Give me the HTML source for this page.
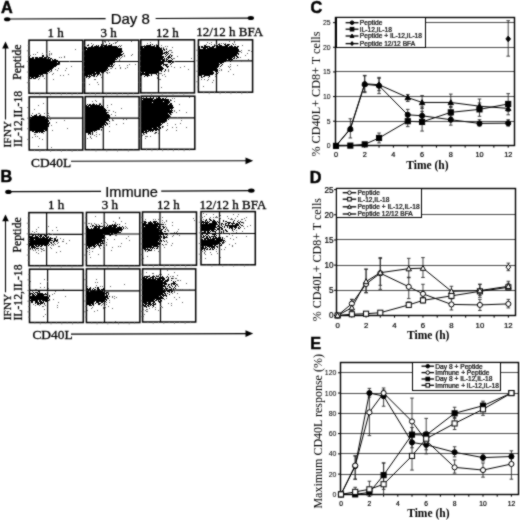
<!DOCTYPE html>
<html><head><meta charset="utf-8"><style>
html,body{margin:0;padding:0;background:#fff;}
svg{display:block;}
</style></head><body>
<svg width="520" height="520" viewBox="0 0 520 520">
<defs><filter id="soft" x="0" y="0" width="520" height="520" filterUnits="userSpaceOnUse" color-interpolation-filters="sRGB"><feConvolveMatrix order="3" kernelMatrix="1 2 1 2 12 2 1 2 1" divisor="24" edgeMode="duplicate"/></filter></defs>
<g filter="url(#soft)">
<rect width="520" height="520" fill="#fff"/>
<text x="1.0" y="13.2" font-family="Liberation Sans" font-size="16.2" font-weight="bold" text-anchor="start" fill="#000" stroke="#000" stroke-width="0.5">A</text>
<text x="0.6" y="182.0" font-family="Liberation Sans" font-size="16.2" font-weight="bold" text-anchor="start" fill="#000" stroke="#000" stroke-width="0.5">B</text>
<text x="310.4" y="13.2" font-family="Liberation Sans" font-size="16.2" font-weight="bold" text-anchor="start" fill="#000" stroke="#000" stroke-width="0.5">C</text>
<text x="309.8" y="183.0" font-family="Liberation Sans" font-size="16.2" font-weight="bold" text-anchor="start" fill="#000" stroke="#000" stroke-width="0.5">D</text>
<text x="310.3" y="348.8" font-family="Liberation Sans" font-size="16.2" font-weight="bold" text-anchor="start" fill="#000" stroke="#000" stroke-width="0.5">E</text>
<ellipse cx="7.2" cy="19.2" rx="3.2" ry="2.0" fill="#000"/>
<line x1="9" y1="19.0" x2="105.6" y2="18.7" stroke="#000" stroke-width="1.2"/>
<text x="110.7" y="24.4" font-family="Liberation Sans" font-size="15.0" text-anchor="start" fill="#000" stroke="#000" stroke-width="0.2">Day 8</text>
<line x1="155.6" y1="18.5" x2="249" y2="18.2" stroke="#000" stroke-width="1.2"/>
<ellipse cx="250.8" cy="18.0" rx="3.2" ry="2.0" fill="#000"/>
<ellipse cx="8.4" cy="191.9" rx="3.2" ry="2.1" fill="#000"/>
<line x1="10" y1="191.7" x2="101.0" y2="191.4" stroke="#000" stroke-width="1.2"/>
<text x="105.2" y="196.9" font-family="Liberation Sans" font-size="14.6" text-anchor="start" fill="#000" stroke="#000" stroke-width="0.2">Immune</text>
<line x1="161.2" y1="191.1" x2="250" y2="190.6" stroke="#000" stroke-width="1.2"/>
<ellipse cx="251.3" cy="190.6" rx="3.3" ry="2.2" fill="#000"/>
<text x="47.4" y="37.0" font-family="Liberation Serif" font-size="13.0" text-anchor="start" fill="#000" stroke="#000" stroke-width="0.3">1 h</text>
<text x="100.4" y="37.0" font-family="Liberation Serif" font-size="13.0" text-anchor="start" fill="#000" stroke="#000" stroke-width="0.3">3 h</text>
<text x="156.0" y="37.0" font-family="Liberation Serif" font-size="13.0" text-anchor="start" fill="#000" stroke="#000" stroke-width="0.3">12 h</text>
<text x="196.20000000000002" y="36.4" font-family="Liberation Serif" font-size="13.0" text-anchor="start" fill="#000" stroke="#000" stroke-width="0.3">12/12 h BFA</text>
<text x="48.1" y="209.4" font-family="Liberation Serif" font-size="13.0" text-anchor="start" fill="#000" stroke="#000" stroke-width="0.3">1 h</text>
<text x="101.7" y="208.8" font-family="Liberation Serif" font-size="13.0" text-anchor="start" fill="#000" stroke="#000" stroke-width="0.3">3 h</text>
<text x="157.1" y="208.6" font-family="Liberation Serif" font-size="13.0" text-anchor="start" fill="#000" stroke="#000" stroke-width="0.3">12 h</text>
<text x="199.4" y="208.6" font-family="Liberation Serif" font-size="13.0" text-anchor="start" fill="#000" stroke="#000" stroke-width="0.3">12/12 h BFA</text>
<rect x="29.0" y="40.2" width="53.80" height="53.10" fill="none" stroke="#000" stroke-width="1.5"/>
<line x1="46.8" y1="40.2" x2="46.8" y2="93.3" stroke="#000" stroke-width="1.2"/>
<line x1="29.0" y1="61.5" x2="82.8" y2="61.5" stroke="#000" stroke-width="1.2"/>
<line x1="27.7" y1="45.510000000000005" x2="29.0" y2="45.510000000000005" stroke="#666" stroke-width="0.8"/>
<line x1="34.38" y1="93.3" x2="34.38" y2="94.5" stroke="#888" stroke-width="0.8"/>
<line x1="26.8" y1="50.82" x2="29.0" y2="50.82" stroke="#666" stroke-width="0.8"/>
<line x1="39.76" y1="93.3" x2="39.76" y2="95.3" stroke="#888" stroke-width="0.8"/>
<line x1="27.7" y1="56.13" x2="29.0" y2="56.13" stroke="#666" stroke-width="0.8"/>
<line x1="45.14" y1="93.3" x2="45.14" y2="94.5" stroke="#888" stroke-width="0.8"/>
<line x1="26.8" y1="61.44" x2="29.0" y2="61.44" stroke="#666" stroke-width="0.8"/>
<line x1="50.519999999999996" y1="93.3" x2="50.519999999999996" y2="95.3" stroke="#888" stroke-width="0.8"/>
<line x1="27.7" y1="66.75" x2="29.0" y2="66.75" stroke="#666" stroke-width="0.8"/>
<line x1="55.9" y1="93.3" x2="55.9" y2="94.5" stroke="#888" stroke-width="0.8"/>
<line x1="26.8" y1="72.06" x2="29.0" y2="72.06" stroke="#666" stroke-width="0.8"/>
<line x1="61.279999999999994" y1="93.3" x2="61.279999999999994" y2="95.3" stroke="#888" stroke-width="0.8"/>
<line x1="27.7" y1="77.37" x2="29.0" y2="77.37" stroke="#666" stroke-width="0.8"/>
<line x1="66.66" y1="93.3" x2="66.66" y2="94.5" stroke="#888" stroke-width="0.8"/>
<line x1="26.8" y1="82.68" x2="29.0" y2="82.68" stroke="#666" stroke-width="0.8"/>
<line x1="72.03999999999999" y1="93.3" x2="72.03999999999999" y2="95.3" stroke="#888" stroke-width="0.8"/>
<line x1="27.7" y1="87.99000000000001" x2="29.0" y2="87.99000000000001" stroke="#666" stroke-width="0.8"/>
<line x1="77.42" y1="93.3" x2="77.42" y2="94.5" stroke="#888" stroke-width="0.8"/>
<rect x="84.6" y="40.1" width="54.20" height="53.20" fill="none" stroke="#000" stroke-width="1.5"/>
<line x1="102.8" y1="40.1" x2="102.8" y2="93.3" stroke="#000" stroke-width="1.2"/>
<line x1="84.6" y1="61.5" x2="138.8" y2="61.5" stroke="#000" stroke-width="1.2"/>
<line x1="83.3" y1="45.42" x2="84.6" y2="45.42" stroke="#666" stroke-width="0.8"/>
<line x1="90.02" y1="93.3" x2="90.02" y2="94.5" stroke="#888" stroke-width="0.8"/>
<line x1="82.39999999999999" y1="50.74" x2="84.6" y2="50.74" stroke="#666" stroke-width="0.8"/>
<line x1="95.44" y1="93.3" x2="95.44" y2="95.3" stroke="#888" stroke-width="0.8"/>
<line x1="83.3" y1="56.06" x2="84.6" y2="56.06" stroke="#666" stroke-width="0.8"/>
<line x1="100.86" y1="93.3" x2="100.86" y2="94.5" stroke="#888" stroke-width="0.8"/>
<line x1="82.39999999999999" y1="61.379999999999995" x2="84.6" y2="61.379999999999995" stroke="#666" stroke-width="0.8"/>
<line x1="106.28" y1="93.3" x2="106.28" y2="95.3" stroke="#888" stroke-width="0.8"/>
<line x1="83.3" y1="66.7" x2="84.6" y2="66.7" stroke="#666" stroke-width="0.8"/>
<line x1="111.7" y1="93.3" x2="111.7" y2="94.5" stroke="#888" stroke-width="0.8"/>
<line x1="82.39999999999999" y1="72.02" x2="84.6" y2="72.02" stroke="#666" stroke-width="0.8"/>
<line x1="117.12" y1="93.3" x2="117.12" y2="95.3" stroke="#888" stroke-width="0.8"/>
<line x1="83.3" y1="77.34" x2="84.6" y2="77.34" stroke="#666" stroke-width="0.8"/>
<line x1="122.54" y1="93.3" x2="122.54" y2="94.5" stroke="#888" stroke-width="0.8"/>
<line x1="82.39999999999999" y1="82.66" x2="84.6" y2="82.66" stroke="#666" stroke-width="0.8"/>
<line x1="127.96000000000001" y1="93.3" x2="127.96000000000001" y2="95.3" stroke="#888" stroke-width="0.8"/>
<line x1="83.3" y1="87.97999999999999" x2="84.6" y2="87.97999999999999" stroke="#666" stroke-width="0.8"/>
<line x1="133.38" y1="93.3" x2="133.38" y2="94.5" stroke="#888" stroke-width="0.8"/>
<rect x="140.8" y="39.8" width="53.70" height="53.10" fill="none" stroke="#000" stroke-width="1.5"/>
<line x1="158.5" y1="39.8" x2="158.5" y2="92.9" stroke="#000" stroke-width="1.2"/>
<line x1="140.8" y1="61.5" x2="194.5" y2="61.5" stroke="#000" stroke-width="1.2"/>
<line x1="139.5" y1="45.11" x2="140.8" y2="45.11" stroke="#666" stroke-width="0.8"/>
<line x1="146.17000000000002" y1="92.9" x2="146.17000000000002" y2="94.10000000000001" stroke="#888" stroke-width="0.8"/>
<line x1="138.60000000000002" y1="50.42" x2="140.8" y2="50.42" stroke="#666" stroke-width="0.8"/>
<line x1="151.54000000000002" y1="92.9" x2="151.54000000000002" y2="94.9" stroke="#888" stroke-width="0.8"/>
<line x1="139.5" y1="55.73" x2="140.8" y2="55.73" stroke="#666" stroke-width="0.8"/>
<line x1="156.91" y1="92.9" x2="156.91" y2="94.10000000000001" stroke="#888" stroke-width="0.8"/>
<line x1="138.60000000000002" y1="61.04" x2="140.8" y2="61.04" stroke="#666" stroke-width="0.8"/>
<line x1="162.28" y1="92.9" x2="162.28" y2="94.9" stroke="#888" stroke-width="0.8"/>
<line x1="139.5" y1="66.35" x2="140.8" y2="66.35" stroke="#666" stroke-width="0.8"/>
<line x1="167.65" y1="92.9" x2="167.65" y2="94.10000000000001" stroke="#888" stroke-width="0.8"/>
<line x1="138.60000000000002" y1="71.66" x2="140.8" y2="71.66" stroke="#666" stroke-width="0.8"/>
<line x1="173.02" y1="92.9" x2="173.02" y2="94.9" stroke="#888" stroke-width="0.8"/>
<line x1="139.5" y1="76.97" x2="140.8" y2="76.97" stroke="#666" stroke-width="0.8"/>
<line x1="178.39" y1="92.9" x2="178.39" y2="94.10000000000001" stroke="#888" stroke-width="0.8"/>
<line x1="138.60000000000002" y1="82.28" x2="140.8" y2="82.28" stroke="#666" stroke-width="0.8"/>
<line x1="183.76" y1="92.9" x2="183.76" y2="94.9" stroke="#888" stroke-width="0.8"/>
<line x1="139.5" y1="87.59" x2="140.8" y2="87.59" stroke="#666" stroke-width="0.8"/>
<line x1="189.13" y1="92.9" x2="189.13" y2="94.10000000000001" stroke="#888" stroke-width="0.8"/>
<rect x="198.4" y="39.8" width="54.20" height="52.40" fill="none" stroke="#000" stroke-width="1.5"/>
<line x1="216.5" y1="39.8" x2="216.5" y2="92.2" stroke="#000" stroke-width="1.2"/>
<line x1="198.4" y1="60.8" x2="252.6" y2="60.8" stroke="#000" stroke-width="1.2"/>
<line x1="197.1" y1="45.04" x2="198.4" y2="45.04" stroke="#666" stroke-width="0.8"/>
<line x1="203.82" y1="92.2" x2="203.82" y2="93.4" stroke="#888" stroke-width="0.8"/>
<line x1="196.20000000000002" y1="50.28" x2="198.4" y2="50.28" stroke="#666" stroke-width="0.8"/>
<line x1="209.24" y1="92.2" x2="209.24" y2="94.2" stroke="#888" stroke-width="0.8"/>
<line x1="197.1" y1="55.519999999999996" x2="198.4" y2="55.519999999999996" stroke="#666" stroke-width="0.8"/>
<line x1="214.66" y1="92.2" x2="214.66" y2="93.4" stroke="#888" stroke-width="0.8"/>
<line x1="196.20000000000002" y1="60.76" x2="198.4" y2="60.76" stroke="#666" stroke-width="0.8"/>
<line x1="220.08" y1="92.2" x2="220.08" y2="94.2" stroke="#888" stroke-width="0.8"/>
<line x1="197.1" y1="66.0" x2="198.4" y2="66.0" stroke="#666" stroke-width="0.8"/>
<line x1="225.5" y1="92.2" x2="225.5" y2="93.4" stroke="#888" stroke-width="0.8"/>
<line x1="196.20000000000002" y1="71.24000000000001" x2="198.4" y2="71.24000000000001" stroke="#666" stroke-width="0.8"/>
<line x1="230.92000000000002" y1="92.2" x2="230.92000000000002" y2="94.2" stroke="#888" stroke-width="0.8"/>
<line x1="197.1" y1="76.48" x2="198.4" y2="76.48" stroke="#666" stroke-width="0.8"/>
<line x1="236.34" y1="92.2" x2="236.34" y2="93.4" stroke="#888" stroke-width="0.8"/>
<line x1="196.20000000000002" y1="81.72" x2="198.4" y2="81.72" stroke="#666" stroke-width="0.8"/>
<line x1="241.76" y1="92.2" x2="241.76" y2="94.2" stroke="#888" stroke-width="0.8"/>
<line x1="197.1" y1="86.96000000000001" x2="198.4" y2="86.96000000000001" stroke="#666" stroke-width="0.8"/>
<line x1="247.18" y1="92.2" x2="247.18" y2="93.4" stroke="#888" stroke-width="0.8"/>
<rect x="29.2" y="96.9" width="53.60" height="53.10" fill="none" stroke="#000" stroke-width="1.5"/>
<line x1="47.3" y1="96.9" x2="47.3" y2="150.0" stroke="#000" stroke-width="1.2"/>
<line x1="29.2" y1="118.2" x2="82.8" y2="118.2" stroke="#000" stroke-width="1.2"/>
<line x1="27.9" y1="102.21000000000001" x2="29.2" y2="102.21000000000001" stroke="#666" stroke-width="0.8"/>
<line x1="34.56" y1="150.0" x2="34.56" y2="151.2" stroke="#888" stroke-width="0.8"/>
<line x1="27.0" y1="107.52000000000001" x2="29.2" y2="107.52000000000001" stroke="#666" stroke-width="0.8"/>
<line x1="39.92" y1="150.0" x2="39.92" y2="152.0" stroke="#888" stroke-width="0.8"/>
<line x1="27.9" y1="112.83" x2="29.2" y2="112.83" stroke="#666" stroke-width="0.8"/>
<line x1="45.28" y1="150.0" x2="45.28" y2="151.2" stroke="#888" stroke-width="0.8"/>
<line x1="27.0" y1="118.14" x2="29.2" y2="118.14" stroke="#666" stroke-width="0.8"/>
<line x1="50.64" y1="150.0" x2="50.64" y2="152.0" stroke="#888" stroke-width="0.8"/>
<line x1="27.9" y1="123.45" x2="29.2" y2="123.45" stroke="#666" stroke-width="0.8"/>
<line x1="56.0" y1="150.0" x2="56.0" y2="151.2" stroke="#888" stroke-width="0.8"/>
<line x1="27.0" y1="128.76" x2="29.2" y2="128.76" stroke="#666" stroke-width="0.8"/>
<line x1="61.36" y1="150.0" x2="61.36" y2="152.0" stroke="#888" stroke-width="0.8"/>
<line x1="27.9" y1="134.07" x2="29.2" y2="134.07" stroke="#666" stroke-width="0.8"/>
<line x1="66.72" y1="150.0" x2="66.72" y2="151.2" stroke="#888" stroke-width="0.8"/>
<line x1="27.0" y1="139.38" x2="29.2" y2="139.38" stroke="#666" stroke-width="0.8"/>
<line x1="72.08" y1="150.0" x2="72.08" y2="152.0" stroke="#888" stroke-width="0.8"/>
<line x1="27.9" y1="144.69" x2="29.2" y2="144.69" stroke="#666" stroke-width="0.8"/>
<line x1="77.44" y1="150.0" x2="77.44" y2="151.2" stroke="#888" stroke-width="0.8"/>
<rect x="85.2" y="96.6" width="53.90" height="53.10" fill="none" stroke="#000" stroke-width="1.5"/>
<line x1="103.3" y1="96.6" x2="103.3" y2="149.7" stroke="#000" stroke-width="1.2"/>
<line x1="85.2" y1="118.2" x2="139.1" y2="118.2" stroke="#000" stroke-width="1.2"/>
<line x1="83.9" y1="101.91" x2="85.2" y2="101.91" stroke="#666" stroke-width="0.8"/>
<line x1="90.59" y1="149.7" x2="90.59" y2="150.89999999999998" stroke="#888" stroke-width="0.8"/>
<line x1="83.0" y1="107.22" x2="85.2" y2="107.22" stroke="#666" stroke-width="0.8"/>
<line x1="95.98" y1="149.7" x2="95.98" y2="151.7" stroke="#888" stroke-width="0.8"/>
<line x1="83.9" y1="112.52999999999999" x2="85.2" y2="112.52999999999999" stroke="#666" stroke-width="0.8"/>
<line x1="101.37" y1="149.7" x2="101.37" y2="150.89999999999998" stroke="#888" stroke-width="0.8"/>
<line x1="83.0" y1="117.83999999999999" x2="85.2" y2="117.83999999999999" stroke="#666" stroke-width="0.8"/>
<line x1="106.75999999999999" y1="149.7" x2="106.75999999999999" y2="151.7" stroke="#888" stroke-width="0.8"/>
<line x1="83.9" y1="123.14999999999999" x2="85.2" y2="123.14999999999999" stroke="#666" stroke-width="0.8"/>
<line x1="112.15" y1="149.7" x2="112.15" y2="150.89999999999998" stroke="#888" stroke-width="0.8"/>
<line x1="83.0" y1="128.45999999999998" x2="85.2" y2="128.45999999999998" stroke="#666" stroke-width="0.8"/>
<line x1="117.53999999999999" y1="149.7" x2="117.53999999999999" y2="151.7" stroke="#888" stroke-width="0.8"/>
<line x1="83.9" y1="133.76999999999998" x2="85.2" y2="133.76999999999998" stroke="#666" stroke-width="0.8"/>
<line x1="122.93" y1="149.7" x2="122.93" y2="150.89999999999998" stroke="#888" stroke-width="0.8"/>
<line x1="83.0" y1="139.07999999999998" x2="85.2" y2="139.07999999999998" stroke="#666" stroke-width="0.8"/>
<line x1="128.32" y1="149.7" x2="128.32" y2="151.7" stroke="#888" stroke-width="0.8"/>
<line x1="83.9" y1="144.39" x2="85.2" y2="144.39" stroke="#666" stroke-width="0.8"/>
<line x1="133.70999999999998" y1="149.7" x2="133.70999999999998" y2="150.89999999999998" stroke="#888" stroke-width="0.8"/>
<rect x="141.2" y="96.2" width="53.60" height="53.10" fill="none" stroke="#000" stroke-width="1.5"/>
<line x1="159.3" y1="96.2" x2="159.3" y2="149.3" stroke="#000" stroke-width="1.2"/>
<line x1="141.2" y1="117.8" x2="194.8" y2="117.8" stroke="#000" stroke-width="1.2"/>
<line x1="139.89999999999998" y1="101.51" x2="141.2" y2="101.51" stroke="#666" stroke-width="0.8"/>
<line x1="146.56" y1="149.3" x2="146.56" y2="150.5" stroke="#888" stroke-width="0.8"/>
<line x1="139.0" y1="106.82000000000001" x2="141.2" y2="106.82000000000001" stroke="#666" stroke-width="0.8"/>
<line x1="151.92" y1="149.3" x2="151.92" y2="151.3" stroke="#888" stroke-width="0.8"/>
<line x1="139.89999999999998" y1="112.13000000000001" x2="141.2" y2="112.13000000000001" stroke="#666" stroke-width="0.8"/>
<line x1="157.28" y1="149.3" x2="157.28" y2="150.5" stroke="#888" stroke-width="0.8"/>
<line x1="139.0" y1="117.44" x2="141.2" y2="117.44" stroke="#666" stroke-width="0.8"/>
<line x1="162.64" y1="149.3" x2="162.64" y2="151.3" stroke="#888" stroke-width="0.8"/>
<line x1="139.89999999999998" y1="122.75" x2="141.2" y2="122.75" stroke="#666" stroke-width="0.8"/>
<line x1="168.0" y1="149.3" x2="168.0" y2="150.5" stroke="#888" stroke-width="0.8"/>
<line x1="139.0" y1="128.06" x2="141.2" y2="128.06" stroke="#666" stroke-width="0.8"/>
<line x1="173.36" y1="149.3" x2="173.36" y2="151.3" stroke="#888" stroke-width="0.8"/>
<line x1="139.89999999999998" y1="133.37" x2="141.2" y2="133.37" stroke="#666" stroke-width="0.8"/>
<line x1="178.72" y1="149.3" x2="178.72" y2="150.5" stroke="#888" stroke-width="0.8"/>
<line x1="139.0" y1="138.68" x2="141.2" y2="138.68" stroke="#666" stroke-width="0.8"/>
<line x1="184.08" y1="149.3" x2="184.08" y2="151.3" stroke="#888" stroke-width="0.8"/>
<line x1="139.89999999999998" y1="143.99" x2="141.2" y2="143.99" stroke="#666" stroke-width="0.8"/>
<line x1="189.44" y1="149.3" x2="189.44" y2="150.5" stroke="#888" stroke-width="0.8"/>
<rect x="28.9" y="212.6" width="53.90" height="53.10" fill="none" stroke="#000" stroke-width="1.5"/>
<line x1="46.6" y1="212.6" x2="46.6" y2="265.7" stroke="#000" stroke-width="1.2"/>
<line x1="28.9" y1="234.3" x2="82.8" y2="234.3" stroke="#000" stroke-width="1.2"/>
<line x1="27.599999999999998" y1="217.91" x2="28.9" y2="217.91" stroke="#666" stroke-width="0.8"/>
<line x1="34.29" y1="265.7" x2="34.29" y2="266.9" stroke="#888" stroke-width="0.8"/>
<line x1="26.7" y1="223.22" x2="28.9" y2="223.22" stroke="#666" stroke-width="0.8"/>
<line x1="39.68" y1="265.7" x2="39.68" y2="267.7" stroke="#888" stroke-width="0.8"/>
<line x1="27.599999999999998" y1="228.53" x2="28.9" y2="228.53" stroke="#666" stroke-width="0.8"/>
<line x1="45.06999999999999" y1="265.7" x2="45.06999999999999" y2="266.9" stroke="#888" stroke-width="0.8"/>
<line x1="26.7" y1="233.84" x2="28.9" y2="233.84" stroke="#666" stroke-width="0.8"/>
<line x1="50.459999999999994" y1="265.7" x2="50.459999999999994" y2="267.7" stroke="#888" stroke-width="0.8"/>
<line x1="27.599999999999998" y1="239.15" x2="28.9" y2="239.15" stroke="#666" stroke-width="0.8"/>
<line x1="55.849999999999994" y1="265.7" x2="55.849999999999994" y2="266.9" stroke="#888" stroke-width="0.8"/>
<line x1="26.7" y1="244.45999999999998" x2="28.9" y2="244.45999999999998" stroke="#666" stroke-width="0.8"/>
<line x1="61.239999999999995" y1="265.7" x2="61.239999999999995" y2="267.7" stroke="#888" stroke-width="0.8"/>
<line x1="27.599999999999998" y1="249.76999999999998" x2="28.9" y2="249.76999999999998" stroke="#666" stroke-width="0.8"/>
<line x1="66.63" y1="265.7" x2="66.63" y2="266.9" stroke="#888" stroke-width="0.8"/>
<line x1="26.7" y1="255.07999999999998" x2="28.9" y2="255.07999999999998" stroke="#666" stroke-width="0.8"/>
<line x1="72.02" y1="265.7" x2="72.02" y2="267.7" stroke="#888" stroke-width="0.8"/>
<line x1="27.599999999999998" y1="260.39" x2="28.9" y2="260.39" stroke="#666" stroke-width="0.8"/>
<line x1="77.41" y1="265.7" x2="77.41" y2="266.9" stroke="#888" stroke-width="0.8"/>
<rect x="86.4" y="212.4" width="53.40" height="53.30" fill="none" stroke="#000" stroke-width="1.5"/>
<line x1="104.2" y1="212.4" x2="104.2" y2="265.7" stroke="#000" stroke-width="1.2"/>
<line x1="86.4" y1="234.0" x2="139.8" y2="234.0" stroke="#000" stroke-width="1.2"/>
<line x1="85.10000000000001" y1="217.73000000000002" x2="86.4" y2="217.73000000000002" stroke="#666" stroke-width="0.8"/>
<line x1="91.74000000000001" y1="265.7" x2="91.74000000000001" y2="266.9" stroke="#888" stroke-width="0.8"/>
<line x1="84.2" y1="223.06" x2="86.4" y2="223.06" stroke="#666" stroke-width="0.8"/>
<line x1="97.08000000000001" y1="265.7" x2="97.08000000000001" y2="267.7" stroke="#888" stroke-width="0.8"/>
<line x1="85.10000000000001" y1="228.39" x2="86.4" y2="228.39" stroke="#666" stroke-width="0.8"/>
<line x1="102.42000000000002" y1="265.7" x2="102.42000000000002" y2="266.9" stroke="#888" stroke-width="0.8"/>
<line x1="84.2" y1="233.72" x2="86.4" y2="233.72" stroke="#666" stroke-width="0.8"/>
<line x1="107.76" y1="265.7" x2="107.76" y2="267.7" stroke="#888" stroke-width="0.8"/>
<line x1="85.10000000000001" y1="239.04999999999998" x2="86.4" y2="239.04999999999998" stroke="#666" stroke-width="0.8"/>
<line x1="113.10000000000001" y1="265.7" x2="113.10000000000001" y2="266.9" stroke="#888" stroke-width="0.8"/>
<line x1="84.2" y1="244.38" x2="86.4" y2="244.38" stroke="#666" stroke-width="0.8"/>
<line x1="118.44000000000001" y1="265.7" x2="118.44000000000001" y2="267.7" stroke="#888" stroke-width="0.8"/>
<line x1="85.10000000000001" y1="249.70999999999998" x2="86.4" y2="249.70999999999998" stroke="#666" stroke-width="0.8"/>
<line x1="123.78000000000002" y1="265.7" x2="123.78000000000002" y2="266.9" stroke="#888" stroke-width="0.8"/>
<line x1="84.2" y1="255.04" x2="86.4" y2="255.04" stroke="#666" stroke-width="0.8"/>
<line x1="129.12" y1="265.7" x2="129.12" y2="267.7" stroke="#888" stroke-width="0.8"/>
<line x1="85.10000000000001" y1="260.37" x2="86.4" y2="260.37" stroke="#666" stroke-width="0.8"/>
<line x1="134.46" y1="265.7" x2="134.46" y2="266.9" stroke="#888" stroke-width="0.8"/>
<rect x="142.5" y="212.0" width="54.00" height="53.20" fill="none" stroke="#000" stroke-width="1.5"/>
<line x1="160.0" y1="212.0" x2="160.0" y2="265.2" stroke="#000" stroke-width="1.2"/>
<line x1="142.5" y1="233.6" x2="196.5" y2="233.6" stroke="#000" stroke-width="1.2"/>
<line x1="141.2" y1="217.32" x2="142.5" y2="217.32" stroke="#666" stroke-width="0.8"/>
<line x1="147.9" y1="265.2" x2="147.9" y2="266.4" stroke="#888" stroke-width="0.8"/>
<line x1="140.3" y1="222.64" x2="142.5" y2="222.64" stroke="#666" stroke-width="0.8"/>
<line x1="153.3" y1="265.2" x2="153.3" y2="267.2" stroke="#888" stroke-width="0.8"/>
<line x1="141.2" y1="227.96" x2="142.5" y2="227.96" stroke="#666" stroke-width="0.8"/>
<line x1="158.7" y1="265.2" x2="158.7" y2="266.4" stroke="#888" stroke-width="0.8"/>
<line x1="140.3" y1="233.28" x2="142.5" y2="233.28" stroke="#666" stroke-width="0.8"/>
<line x1="164.1" y1="265.2" x2="164.1" y2="267.2" stroke="#888" stroke-width="0.8"/>
<line x1="141.2" y1="238.6" x2="142.5" y2="238.6" stroke="#666" stroke-width="0.8"/>
<line x1="169.5" y1="265.2" x2="169.5" y2="266.4" stroke="#888" stroke-width="0.8"/>
<line x1="140.3" y1="243.92" x2="142.5" y2="243.92" stroke="#666" stroke-width="0.8"/>
<line x1="174.9" y1="265.2" x2="174.9" y2="267.2" stroke="#888" stroke-width="0.8"/>
<line x1="141.2" y1="249.24" x2="142.5" y2="249.24" stroke="#666" stroke-width="0.8"/>
<line x1="180.3" y1="265.2" x2="180.3" y2="266.4" stroke="#888" stroke-width="0.8"/>
<line x1="140.3" y1="254.56" x2="142.5" y2="254.56" stroke="#666" stroke-width="0.8"/>
<line x1="185.7" y1="265.2" x2="185.7" y2="267.2" stroke="#888" stroke-width="0.8"/>
<line x1="141.2" y1="259.88" x2="142.5" y2="259.88" stroke="#666" stroke-width="0.8"/>
<line x1="191.1" y1="265.2" x2="191.1" y2="266.4" stroke="#888" stroke-width="0.8"/>
<rect x="201.0" y="211.6" width="54.30" height="53.20" fill="none" stroke="#000" stroke-width="1.5"/>
<line x1="219.5" y1="211.6" x2="219.5" y2="264.8" stroke="#000" stroke-width="1.2"/>
<line x1="201.0" y1="233.5" x2="255.3" y2="233.5" stroke="#000" stroke-width="1.2"/>
<line x1="199.7" y1="216.92" x2="201.0" y2="216.92" stroke="#666" stroke-width="0.8"/>
<line x1="206.43" y1="264.8" x2="206.43" y2="266.0" stroke="#888" stroke-width="0.8"/>
<line x1="198.8" y1="222.24" x2="201.0" y2="222.24" stroke="#666" stroke-width="0.8"/>
<line x1="211.86" y1="264.8" x2="211.86" y2="266.8" stroke="#888" stroke-width="0.8"/>
<line x1="199.7" y1="227.56" x2="201.0" y2="227.56" stroke="#666" stroke-width="0.8"/>
<line x1="217.29" y1="264.8" x2="217.29" y2="266.0" stroke="#888" stroke-width="0.8"/>
<line x1="198.8" y1="232.88" x2="201.0" y2="232.88" stroke="#666" stroke-width="0.8"/>
<line x1="222.72" y1="264.8" x2="222.72" y2="266.8" stroke="#888" stroke-width="0.8"/>
<line x1="199.7" y1="238.20000000000002" x2="201.0" y2="238.20000000000002" stroke="#666" stroke-width="0.8"/>
<line x1="228.15" y1="264.8" x2="228.15" y2="266.0" stroke="#888" stroke-width="0.8"/>
<line x1="198.8" y1="243.52" x2="201.0" y2="243.52" stroke="#666" stroke-width="0.8"/>
<line x1="233.58" y1="264.8" x2="233.58" y2="266.8" stroke="#888" stroke-width="0.8"/>
<line x1="199.7" y1="248.84" x2="201.0" y2="248.84" stroke="#666" stroke-width="0.8"/>
<line x1="239.01" y1="264.8" x2="239.01" y2="266.0" stroke="#888" stroke-width="0.8"/>
<line x1="198.8" y1="254.16000000000003" x2="201.0" y2="254.16000000000003" stroke="#666" stroke-width="0.8"/>
<line x1="244.44" y1="264.8" x2="244.44" y2="266.8" stroke="#888" stroke-width="0.8"/>
<line x1="199.7" y1="259.48" x2="201.0" y2="259.48" stroke="#666" stroke-width="0.8"/>
<line x1="249.87" y1="264.8" x2="249.87" y2="266.0" stroke="#888" stroke-width="0.8"/>
<rect x="29.5" y="269.2" width="53.80" height="53.30" fill="none" stroke="#000" stroke-width="1.5"/>
<line x1="47.6" y1="269.2" x2="47.6" y2="322.5" stroke="#000" stroke-width="1.2"/>
<line x1="29.5" y1="290.3" x2="83.3" y2="290.3" stroke="#000" stroke-width="1.2"/>
<line x1="28.2" y1="274.53" x2="29.5" y2="274.53" stroke="#666" stroke-width="0.8"/>
<line x1="34.88" y1="322.5" x2="34.88" y2="323.7" stroke="#888" stroke-width="0.8"/>
<line x1="27.3" y1="279.86" x2="29.5" y2="279.86" stroke="#666" stroke-width="0.8"/>
<line x1="40.26" y1="322.5" x2="40.26" y2="324.5" stroke="#888" stroke-width="0.8"/>
<line x1="28.2" y1="285.19" x2="29.5" y2="285.19" stroke="#666" stroke-width="0.8"/>
<line x1="45.64" y1="322.5" x2="45.64" y2="323.7" stroke="#888" stroke-width="0.8"/>
<line x1="27.3" y1="290.52" x2="29.5" y2="290.52" stroke="#666" stroke-width="0.8"/>
<line x1="51.019999999999996" y1="322.5" x2="51.019999999999996" y2="324.5" stroke="#888" stroke-width="0.8"/>
<line x1="28.2" y1="295.85" x2="29.5" y2="295.85" stroke="#666" stroke-width="0.8"/>
<line x1="56.4" y1="322.5" x2="56.4" y2="323.7" stroke="#888" stroke-width="0.8"/>
<line x1="27.3" y1="301.18" x2="29.5" y2="301.18" stroke="#666" stroke-width="0.8"/>
<line x1="61.779999999999994" y1="322.5" x2="61.779999999999994" y2="324.5" stroke="#888" stroke-width="0.8"/>
<line x1="28.2" y1="306.51" x2="29.5" y2="306.51" stroke="#666" stroke-width="0.8"/>
<line x1="67.16" y1="322.5" x2="67.16" y2="323.7" stroke="#888" stroke-width="0.8"/>
<line x1="27.3" y1="311.84" x2="29.5" y2="311.84" stroke="#666" stroke-width="0.8"/>
<line x1="72.53999999999999" y1="322.5" x2="72.53999999999999" y2="324.5" stroke="#888" stroke-width="0.8"/>
<line x1="28.2" y1="317.17" x2="29.5" y2="317.17" stroke="#666" stroke-width="0.8"/>
<line x1="77.92" y1="322.5" x2="77.92" y2="323.7" stroke="#888" stroke-width="0.8"/>
<rect x="86.4" y="268.9" width="53.50" height="53.60" fill="none" stroke="#000" stroke-width="1.5"/>
<line x1="104.5" y1="268.9" x2="104.5" y2="322.5" stroke="#000" stroke-width="1.2"/>
<line x1="86.4" y1="290.8" x2="139.9" y2="290.8" stroke="#000" stroke-width="1.2"/>
<line x1="85.10000000000001" y1="274.26" x2="86.4" y2="274.26" stroke="#666" stroke-width="0.8"/>
<line x1="91.75" y1="322.5" x2="91.75" y2="323.7" stroke="#888" stroke-width="0.8"/>
<line x1="84.2" y1="279.62" x2="86.4" y2="279.62" stroke="#666" stroke-width="0.8"/>
<line x1="97.10000000000001" y1="322.5" x2="97.10000000000001" y2="324.5" stroke="#888" stroke-width="0.8"/>
<line x1="85.10000000000001" y1="284.97999999999996" x2="86.4" y2="284.97999999999996" stroke="#666" stroke-width="0.8"/>
<line x1="102.45" y1="322.5" x2="102.45" y2="323.7" stroke="#888" stroke-width="0.8"/>
<line x1="84.2" y1="290.34" x2="86.4" y2="290.34" stroke="#666" stroke-width="0.8"/>
<line x1="107.80000000000001" y1="322.5" x2="107.80000000000001" y2="324.5" stroke="#888" stroke-width="0.8"/>
<line x1="85.10000000000001" y1="295.7" x2="86.4" y2="295.7" stroke="#666" stroke-width="0.8"/>
<line x1="113.15" y1="322.5" x2="113.15" y2="323.7" stroke="#888" stroke-width="0.8"/>
<line x1="84.2" y1="301.06" x2="86.4" y2="301.06" stroke="#666" stroke-width="0.8"/>
<line x1="118.5" y1="322.5" x2="118.5" y2="324.5" stroke="#888" stroke-width="0.8"/>
<line x1="85.10000000000001" y1="306.42" x2="86.4" y2="306.42" stroke="#666" stroke-width="0.8"/>
<line x1="123.85000000000001" y1="322.5" x2="123.85000000000001" y2="323.7" stroke="#888" stroke-width="0.8"/>
<line x1="84.2" y1="311.78" x2="86.4" y2="311.78" stroke="#666" stroke-width="0.8"/>
<line x1="129.2" y1="322.5" x2="129.2" y2="324.5" stroke="#888" stroke-width="0.8"/>
<line x1="85.10000000000001" y1="317.14" x2="86.4" y2="317.14" stroke="#666" stroke-width="0.8"/>
<line x1="134.55" y1="322.5" x2="134.55" y2="323.7" stroke="#888" stroke-width="0.8"/>
<rect x="142.6" y="268.9" width="53.10" height="53.10" fill="none" stroke="#000" stroke-width="1.5"/>
<line x1="160.5" y1="268.9" x2="160.5" y2="322.0" stroke="#000" stroke-width="1.2"/>
<line x1="142.6" y1="290.1" x2="195.7" y2="290.1" stroke="#000" stroke-width="1.2"/>
<line x1="141.29999999999998" y1="274.21" x2="142.6" y2="274.21" stroke="#666" stroke-width="0.8"/>
<line x1="147.91" y1="322.0" x2="147.91" y2="323.2" stroke="#888" stroke-width="0.8"/>
<line x1="140.4" y1="279.52" x2="142.6" y2="279.52" stroke="#666" stroke-width="0.8"/>
<line x1="153.22" y1="322.0" x2="153.22" y2="324.0" stroke="#888" stroke-width="0.8"/>
<line x1="141.29999999999998" y1="284.83" x2="142.6" y2="284.83" stroke="#666" stroke-width="0.8"/>
<line x1="158.53" y1="322.0" x2="158.53" y2="323.2" stroke="#888" stroke-width="0.8"/>
<line x1="140.4" y1="290.14" x2="142.6" y2="290.14" stroke="#666" stroke-width="0.8"/>
<line x1="163.84" y1="322.0" x2="163.84" y2="324.0" stroke="#888" stroke-width="0.8"/>
<line x1="141.29999999999998" y1="295.45" x2="142.6" y2="295.45" stroke="#666" stroke-width="0.8"/>
<line x1="169.15" y1="322.0" x2="169.15" y2="323.2" stroke="#888" stroke-width="0.8"/>
<line x1="140.4" y1="300.76" x2="142.6" y2="300.76" stroke="#666" stroke-width="0.8"/>
<line x1="174.45999999999998" y1="322.0" x2="174.45999999999998" y2="324.0" stroke="#888" stroke-width="0.8"/>
<line x1="141.29999999999998" y1="306.07" x2="142.6" y2="306.07" stroke="#666" stroke-width="0.8"/>
<line x1="179.76999999999998" y1="322.0" x2="179.76999999999998" y2="323.2" stroke="#888" stroke-width="0.8"/>
<line x1="140.4" y1="311.38" x2="142.6" y2="311.38" stroke="#666" stroke-width="0.8"/>
<line x1="185.07999999999998" y1="322.0" x2="185.07999999999998" y2="324.0" stroke="#888" stroke-width="0.8"/>
<line x1="141.29999999999998" y1="316.69" x2="142.6" y2="316.69" stroke="#666" stroke-width="0.8"/>
<line x1="190.39" y1="322.0" x2="190.39" y2="323.2" stroke="#888" stroke-width="0.8"/>
<path d="M109 43h1v1h-1zM101 44h1v1h-1zM106 44h1v1h-1zM111 44h1v1h-1zM150 44h1v1h-1zM152 44h1v1h-1zM218 44h2v1h-2zM224 44h2v1h-2zM227 44h3v1h-3zM233 44h1v1h-1zM87 45h2v1h-2zM92 45h1v1h-1zM96 45h1v1h-1zM98 45h1v1h-1zM101 45h1v1h-1zM103 45h4v1h-4zM108 45h4v1h-4zM146 45h5v1h-5zM154 45h1v1h-1zM156 45h2v1h-2zM204 45h2v1h-2zM214 45h1v1h-1zM217 45h1v1h-1zM219 45h3v1h-3zM225 45h4v1h-4zM231 45h1v1h-1zM91 46h2v1h-2zM94 46h5v1h-5zM100 46h3v1h-3zM104 46h13v1h-13zM118 46h1v1h-1zM120 46h1v1h-1zM141 46h14v1h-14zM156 46h2v1h-2zM199 46h1v1h-1zM201 46h2v1h-2zM204 46h6v1h-6zM212 46h3v1h-3zM216 46h12v1h-12zM229 46h4v1h-4zM234 46h2v1h-2zM237 46h2v1h-2zM85 47h2v1h-2zM88 47h30v1h-30zM141 47h2v1h-2zM144 47h14v1h-14zM159 47h1v1h-1zM199 47h1v1h-1zM201 47h7v1h-7zM209 47h5v1h-5zM216 47h22v1h-22zM85 48h37v1h-37zM141 48h21v1h-21zM163 48h1v1h-1zM199 48h1v1h-1zM203 48h3v1h-3zM207 48h31v1h-31zM85 49h1v1h-1zM87 49h35v1h-35zM141 49h21v1h-21zM163 49h2v1h-2zM166 49h1v1h-1zM199 49h40v1h-40zM85 50h37v1h-37zM141 50h22v1h-22zM164 50h1v1h-1zM199 50h40v1h-40zM85 51h38v1h-38zM141 51h22v1h-22zM166 51h1v1h-1zM168 51h1v1h-1zM199 51h41v1h-41zM85 52h37v1h-37zM141 52h22v1h-22zM164 52h4v1h-4zM199 52h39v1h-39zM85 53h36v1h-36zM123 53h1v1h-1zM141 53h24v1h-24zM166 53h1v1h-1zM168 53h1v1h-1zM199 53h40v1h-40zM85 54h38v1h-38zM141 54h22v1h-22zM165 54h1v1h-1zM167 54h1v1h-1zM170 54h1v1h-1zM199 54h38v1h-38zM238 54h1v1h-1zM42 55h2v1h-2zM85 55h37v1h-37zM141 55h21v1h-21zM166 55h1v1h-1zM169 55h1v1h-1zM171 55h1v1h-1zM199 55h38v1h-38zM29 56h1v1h-1zM42 56h2v1h-2zM47 56h1v1h-1zM85 56h35v1h-35zM141 56h23v1h-23zM165 56h1v1h-1zM168 56h2v1h-2zM171 56h1v1h-1zM199 56h36v1h-36zM236 56h2v1h-2zM29 57h1v1h-1zM32 57h2v1h-2zM35 57h3v1h-3zM39 57h4v1h-4zM44 57h3v1h-3zM48 57h2v1h-2zM85 57h33v1h-33zM141 57h23v1h-23zM167 57h4v1h-4zM199 57h34v1h-34zM234 57h1v1h-1zM237 57h2v1h-2zM29 58h5v1h-5zM35 58h11v1h-11zM48 58h1v1h-1zM50 58h2v1h-2zM85 58h31v1h-31zM117 58h1v1h-1zM141 58h22v1h-22zM164 58h1v1h-1zM166 58h1v1h-1zM168 58h1v1h-1zM171 58h1v1h-1zM199 58h33v1h-33zM233 58h2v1h-2zM236 58h1v1h-1zM29 59h22v1h-22zM52 59h1v1h-1zM54 59h2v1h-2zM85 59h32v1h-32zM141 59h24v1h-24zM166 59h2v1h-2zM172 59h1v1h-1zM199 59h28v1h-28zM228 59h5v1h-5zM29 60h22v1h-22zM52 60h6v1h-6zM85 60h30v1h-30zM141 60h20v1h-20zM162 60h3v1h-3zM166 60h1v1h-1zM168 60h4v1h-4zM199 60h31v1h-31zM231 60h1v1h-1zM29 61h25v1h-25zM55 61h2v1h-2zM58 61h2v1h-2zM85 61h29v1h-29zM141 61h23v1h-23zM167 61h3v1h-3zM171 61h1v1h-1zM199 61h27v1h-27zM230 61h1v1h-1zM29 62h28v1h-28zM58 62h2v1h-2zM85 62h30v1h-30zM141 62h23v1h-23zM168 62h3v1h-3zM172 62h1v1h-1zM199 62h25v1h-25zM29 63h31v1h-31zM85 63h28v1h-28zM141 63h23v1h-23zM171 63h1v1h-1zM199 63h20v1h-20zM220 63h2v1h-2zM29 64h30v1h-30zM85 64h28v1h-28zM141 64h21v1h-21zM163 64h5v1h-5zM170 64h1v1h-1zM199 64h21v1h-21zM222 64h1v1h-1zM29 65h28v1h-28zM85 65h25v1h-25zM111 65h1v1h-1zM113 65h1v1h-1zM141 65h20v1h-20zM163 65h1v1h-1zM165 65h2v1h-2zM199 65h20v1h-20zM221 65h1v1h-1zM29 66h27v1h-27zM85 66h28v1h-28zM141 66h21v1h-21zM166 66h3v1h-3zM199 66h20v1h-20zM220 66h1v1h-1zM29 67h25v1h-25zM85 67h23v1h-23zM141 67h17v1h-17zM159 67h4v1h-4zM167 67h1v1h-1zM199 67h19v1h-19zM29 68h24v1h-24zM85 68h23v1h-23zM141 68h23v1h-23zM199 68h18v1h-18zM29 69h23v1h-23zM85 69h22v1h-22zM108 69h1v1h-1zM141 69h17v1h-17zM159 69h4v1h-4zM165 69h1v1h-1zM199 69h17v1h-17zM217 69h1v1h-1zM29 70h21v1h-21zM51 70h1v1h-1zM85 70h21v1h-21zM107 70h1v1h-1zM141 70h21v1h-21zM165 70h1v1h-1zM199 70h17v1h-17zM217 70h1v1h-1zM29 71h20v1h-20zM85 71h20v1h-20zM141 71h17v1h-17zM161 71h1v1h-1zM164 71h1v1h-1zM199 71h14v1h-14zM215 71h1v1h-1zM217 71h1v1h-1zM29 72h18v1h-18zM85 72h10v1h-10zM96 72h4v1h-4zM101 72h3v1h-3zM142 72h2v1h-2zM145 72h13v1h-13zM199 72h15v1h-15zM29 73h19v1h-19zM85 73h15v1h-15zM141 73h16v1h-16zM199 73h15v1h-15zM217 73h1v1h-1zM29 74h14v1h-14zM85 74h7v1h-7zM93 74h3v1h-3zM97 74h2v1h-2zM100 74h1v1h-1zM141 74h8v1h-8zM151 74h1v1h-1zM156 74h1v1h-1zM199 74h14v1h-14zM29 75h10v1h-10zM40 75h1v1h-1zM85 75h3v1h-3zM89 75h1v1h-1zM91 75h4v1h-4zM97 75h1v1h-1zM141 75h1v1h-1zM145 75h5v1h-5zM151 75h1v1h-1zM199 75h3v1h-3zM204 75h6v1h-6zM29 76h11v1h-11zM86 76h5v1h-5zM94 76h1v1h-1zM96 76h1v1h-1zM144 76h1v1h-1zM147 76h1v1h-1zM201 76h1v1h-1zM203 76h2v1h-2zM209 76h1v1h-1zM29 77h1v1h-1zM31 77h3v1h-3zM35 77h3v1h-3zM86 77h1v1h-1zM89 77h1v1h-1zM201 77h1v1h-1zM29 78h3v1h-3zM33 78h3v1h-3zM146 97h1v1h-1zM150 97h1v1h-1zM153 97h1v1h-1zM158 97h2v1h-2zM142 98h12v1h-12zM156 98h5v1h-5zM162 98h2v1h-2zM165 98h1v1h-1zM143 99h10v1h-10zM154 99h15v1h-15zM142 100h27v1h-27zM170 100h1v1h-1zM142 101h21v1h-21zM164 101h6v1h-6zM142 102h10v1h-10zM153 102h17v1h-17zM142 103h27v1h-27zM170 103h2v1h-2zM87 104h1v1h-1zM89 104h2v1h-2zM92 104h3v1h-3zM96 104h1v1h-1zM99 104h2v1h-2zM142 104h26v1h-26zM169 104h3v1h-3zM86 105h1v1h-1zM88 105h12v1h-12zM101 105h1v1h-1zM142 105h31v1h-31zM86 106h3v1h-3zM90 106h13v1h-13zM142 106h31v1h-31zM86 107h18v1h-18zM142 107h32v1h-32zM86 108h19v1h-19zM142 108h31v1h-31zM86 109h17v1h-17zM104 109h2v1h-2zM142 109h28v1h-28zM171 109h1v1h-1zM86 110h21v1h-21zM142 110h31v1h-31zM86 111h20v1h-20zM142 111h30v1h-30zM86 112h22v1h-22zM142 112h31v1h-31zM86 113h21v1h-21zM142 113h26v1h-26zM169 113h2v1h-2zM36 114h1v1h-1zM86 114h23v1h-23zM142 114h27v1h-27zM170 114h1v1h-1zM31 115h1v1h-1zM34 115h3v1h-3zM39 115h2v1h-2zM86 115h24v1h-24zM142 115h28v1h-28zM32 116h13v1h-13zM86 116h24v1h-24zM142 116h28v1h-28zM30 117h16v1h-16zM47 117h1v1h-1zM86 117h24v1h-24zM142 117h27v1h-27zM31 118h14v1h-14zM46 118h1v1h-1zM86 118h22v1h-22zM109 118h1v1h-1zM142 118h26v1h-26zM30 119h18v1h-18zM86 119h23v1h-23zM142 119h25v1h-25zM168 119h1v1h-1zM30 120h19v1h-19zM86 120h23v1h-23zM142 120h25v1h-25zM30 121h19v1h-19zM86 121h20v1h-20zM109 121h1v1h-1zM142 121h24v1h-24zM30 122h18v1h-18zM49 122h1v1h-1zM86 122h21v1h-21zM142 122h23v1h-23zM30 123h20v1h-20zM86 123h19v1h-19zM106 123h2v1h-2zM142 123h19v1h-19zM162 123h1v1h-1zM30 124h19v1h-19zM86 124h20v1h-20zM107 124h1v1h-1zM142 124h20v1h-20zM30 125h17v1h-17zM48 125h1v1h-1zM86 125h17v1h-17zM105 125h1v1h-1zM142 125h19v1h-19zM30 126h19v1h-19zM86 126h16v1h-16zM103 126h1v1h-1zM142 126h18v1h-18zM162 126h1v1h-1zM30 127h17v1h-17zM86 127h17v1h-17zM142 127h15v1h-15zM158 127h3v1h-3zM162 127h1v1h-1zM30 128h18v1h-18zM86 128h14v1h-14zM142 128h10v1h-10zM153 128h5v1h-5zM160 128h1v1h-1zM30 129h17v1h-17zM86 129h14v1h-14zM101 129h1v1h-1zM142 129h17v1h-17zM30 130h14v1h-14zM45 130h2v1h-2zM86 130h11v1h-11zM142 130h5v1h-5zM148 130h6v1h-6zM155 130h2v1h-2zM32 131h2v1h-2zM35 131h10v1h-10zM86 131h7v1h-7zM94 131h1v1h-1zM142 131h2v1h-2zM145 131h4v1h-4zM150 131h1v1h-1zM152 131h1v1h-1zM34 132h4v1h-4zM39 132h1v1h-1zM41 132h2v1h-2zM86 132h5v1h-5zM92 132h1v1h-1zM142 132h5v1h-5zM155 132h2v1h-2zM88 133h3v1h-3zM92 133h1v1h-1zM143 133h1v1h-1zM146 133h1v1h-1zM88 134h1v1h-1zM90 134h1v1h-1zM92 134h1v1h-1zM206 219h1v1h-1zM209 219h2v1h-2zM201 220h1v1h-1zM205 220h2v1h-2zM210 220h2v1h-2zM213 220h2v1h-2zM223 220h1v1h-1zM234 220h1v1h-1zM144 221h2v1h-2zM150 221h1v1h-1zM153 221h4v1h-4zM202 221h2v1h-2zM205 221h1v1h-1zM207 221h1v1h-1zM209 221h1v1h-1zM212 221h4v1h-4zM217 221h1v1h-1zM223 221h1v1h-1zM225 221h2v1h-2zM233 221h1v1h-1zM237 221h1v1h-1zM240 221h1v1h-1zM144 222h3v1h-3zM148 222h4v1h-4zM153 222h3v1h-3zM157 222h1v1h-1zM201 222h8v1h-8zM212 222h5v1h-5zM218 222h1v1h-1zM227 222h4v1h-4zM233 222h1v1h-1zM238 222h2v1h-2zM241 222h2v1h-2zM143 223h3v1h-3zM148 223h5v1h-5zM154 223h5v1h-5zM201 223h1v1h-1zM203 223h1v1h-1zM205 223h3v1h-3zM209 223h8v1h-8zM221 223h2v1h-2zM225 223h2v1h-2zM228 223h2v1h-2zM231 223h4v1h-4zM236 223h2v1h-2zM239 223h1v1h-1zM112 224h1v1h-1zM114 224h1v1h-1zM117 224h1v1h-1zM119 224h1v1h-1zM143 224h21v1h-21zM201 224h17v1h-17zM221 224h1v1h-1zM223 224h1v1h-1zM225 224h1v1h-1zM228 224h1v1h-1zM232 224h1v1h-1zM235 224h4v1h-4zM240 224h1v1h-1zM92 225h2v1h-2zM96 225h1v1h-1zM99 225h1v1h-1zM107 225h1v1h-1zM109 225h8v1h-8zM143 225h15v1h-15zM159 225h1v1h-1zM201 225h15v1h-15zM218 225h1v1h-1zM221 225h1v1h-1zM225 225h14v1h-14zM241 225h2v1h-2zM87 226h1v1h-1zM90 226h1v1h-1zM92 226h1v1h-1zM94 226h9v1h-9zM104 226h1v1h-1zM106 226h1v1h-1zM108 226h4v1h-4zM113 226h4v1h-4zM119 226h1v1h-1zM122 226h1v1h-1zM143 226h1v1h-1zM145 226h16v1h-16zM162 226h2v1h-2zM201 226h15v1h-15zM217 226h2v1h-2zM222 226h1v1h-1zM224 226h1v1h-1zM227 226h1v1h-1zM229 226h8v1h-8zM239 226h1v1h-1zM87 227h1v1h-1zM94 227h3v1h-3zM98 227h2v1h-2zM103 227h13v1h-13zM117 227h5v1h-5zM123 227h1v1h-1zM143 227h14v1h-14zM158 227h2v1h-2zM163 227h2v1h-2zM201 227h16v1h-16zM220 227h2v1h-2zM224 227h1v1h-1zM227 227h1v1h-1zM229 227h4v1h-4zM234 227h3v1h-3zM238 227h1v1h-1zM240 227h1v1h-1zM87 228h2v1h-2zM91 228h1v1h-1zM93 228h7v1h-7zM102 228h20v1h-20zM123 228h1v1h-1zM143 228h18v1h-18zM163 228h1v1h-1zM201 228h14v1h-14zM217 228h3v1h-3zM221 228h2v1h-2zM229 228h1v1h-1zM231 228h2v1h-2zM235 228h1v1h-1zM238 228h2v1h-2zM87 229h36v1h-36zM143 229h16v1h-16zM161 229h2v1h-2zM165 229h1v1h-1zM201 229h15v1h-15zM217 229h3v1h-3zM221 229h2v1h-2zM225 229h1v1h-1zM232 229h1v1h-1zM234 229h1v1h-1zM87 230h35v1h-35zM143 230h19v1h-19zM201 230h9v1h-9zM211 230h3v1h-3zM216 230h1v1h-1zM223 230h1v1h-1zM225 230h2v1h-2zM232 230h1v1h-1zM87 231h32v1h-32zM143 231h16v1h-16zM160 231h2v1h-2zM164 231h2v1h-2zM204 231h2v1h-2zM207 231h2v1h-2zM210 231h1v1h-1zM212 231h4v1h-4zM219 231h1v1h-1zM221 231h1v1h-1zM223 231h1v1h-1zM226 231h2v1h-2zM87 232h34v1h-34zM143 232h20v1h-20zM202 232h4v1h-4zM207 232h3v1h-3zM215 232h1v1h-1zM221 232h1v1h-1zM223 232h1v1h-1zM87 233h23v1h-23zM111 233h2v1h-2zM114 233h3v1h-3zM143 233h18v1h-18zM162 233h3v1h-3zM202 233h2v1h-2zM208 233h1v1h-1zM212 233h2v1h-2zM215 233h2v1h-2zM218 233h1v1h-1zM33 234h2v1h-2zM37 234h1v1h-1zM39 234h2v1h-2zM43 234h1v1h-1zM87 234h16v1h-16zM105 234h8v1h-8zM143 234h21v1h-21zM165 234h2v1h-2zM202 234h1v1h-1zM206 234h2v1h-2zM212 234h4v1h-4zM32 235h2v1h-2zM35 235h1v1h-1zM38 235h1v1h-1zM40 235h2v1h-2zM44 235h3v1h-3zM87 235h18v1h-18zM110 235h1v1h-1zM143 235h16v1h-16zM160 235h1v1h-1zM163 235h1v1h-1zM203 235h1v1h-1zM205 235h1v1h-1zM208 235h1v1h-1zM214 235h1v1h-1zM216 235h1v1h-1zM29 236h4v1h-4zM35 236h3v1h-3zM39 236h3v1h-3zM43 236h1v1h-1zM45 236h2v1h-2zM48 236h1v1h-1zM87 236h18v1h-18zM143 236h19v1h-19zM163 236h2v1h-2zM166 236h1v1h-1zM201 236h1v1h-1zM203 236h2v1h-2zM206 236h2v1h-2zM209 236h1v1h-1zM211 236h5v1h-5zM29 237h10v1h-10zM40 237h1v1h-1zM42 237h3v1h-3zM46 237h3v1h-3zM50 237h1v1h-1zM87 237h17v1h-17zM143 237h17v1h-17zM161 237h1v1h-1zM163 237h4v1h-4zM202 237h2v1h-2zM206 237h2v1h-2zM209 237h2v1h-2zM213 237h1v1h-1zM215 237h2v1h-2zM218 237h1v1h-1zM220 237h1v1h-1zM222 237h1v1h-1zM30 238h16v1h-16zM47 238h1v1h-1zM49 238h4v1h-4zM54 238h2v1h-2zM87 238h18v1h-18zM143 238h18v1h-18zM163 238h2v1h-2zM204 238h5v1h-5zM210 238h1v1h-1zM212 238h9v1h-9zM222 238h1v1h-1zM29 239h5v1h-5zM35 239h16v1h-16zM54 239h2v1h-2zM57 239h1v1h-1zM87 239h15v1h-15zM143 239h16v1h-16zM160 239h1v1h-1zM201 239h2v1h-2zM204 239h2v1h-2zM207 239h8v1h-8zM216 239h7v1h-7zM30 240h23v1h-23zM54 240h4v1h-4zM87 240h18v1h-18zM143 240h16v1h-16zM160 240h2v1h-2zM163 240h1v1h-1zM201 240h24v1h-24zM29 241h21v1h-21zM53 241h2v1h-2zM56 241h1v1h-1zM87 241h16v1h-16zM104 241h1v1h-1zM143 241h15v1h-15zM159 241h1v1h-1zM161 241h1v1h-1zM164 241h1v1h-1zM201 241h21v1h-21zM223 241h1v1h-1zM30 242h16v1h-16zM47 242h2v1h-2zM50 242h2v1h-2zM53 242h1v1h-1zM87 242h14v1h-14zM102 242h1v1h-1zM143 242h16v1h-16zM201 242h18v1h-18zM222 242h2v1h-2zM29 243h20v1h-20zM51 243h1v1h-1zM87 243h12v1h-12zM100 243h4v1h-4zM143 243h18v1h-18zM201 243h20v1h-20zM222 243h1v1h-1zM29 244h19v1h-19zM49 244h1v1h-1zM87 244h9v1h-9zM97 244h2v1h-2zM100 244h1v1h-1zM143 244h17v1h-17zM162 244h1v1h-1zM201 244h17v1h-17zM219 244h1v1h-1zM221 244h1v1h-1zM29 245h5v1h-5zM35 245h2v1h-2zM38 245h2v1h-2zM41 245h2v1h-2zM44 245h2v1h-2zM48 245h1v1h-1zM87 245h8v1h-8zM96 245h1v1h-1zM98 245h4v1h-4zM143 245h15v1h-15zM201 245h12v1h-12zM214 245h2v1h-2zM219 245h3v1h-3zM29 246h1v1h-1zM31 246h4v1h-4zM36 246h3v1h-3zM40 246h2v1h-2zM88 246h4v1h-4zM93 246h3v1h-3zM99 246h1v1h-1zM143 246h9v1h-9zM153 246h6v1h-6zM202 246h2v1h-2zM205 246h1v1h-1zM207 246h8v1h-8zM216 246h2v1h-2zM219 246h1v1h-1zM31 247h5v1h-5zM88 247h2v1h-2zM94 247h1v1h-1zM143 247h11v1h-11zM157 247h1v1h-1zM201 247h3v1h-3zM205 247h2v1h-2zM209 247h1v1h-1zM211 247h4v1h-4zM217 247h1v1h-1zM30 248h1v1h-1zM32 248h1v1h-1zM34 248h1v1h-1zM36 248h3v1h-3zM87 248h1v1h-1zM89 248h1v1h-1zM143 248h3v1h-3zM147 248h1v1h-1zM150 248h1v1h-1zM152 248h1v1h-1zM154 248h1v1h-1zM156 248h2v1h-2zM201 248h5v1h-5zM207 248h1v1h-1zM210 248h1v1h-1zM212 248h1v1h-1zM214 248h1v1h-1zM144 249h6v1h-6zM151 249h1v1h-1zM201 249h2v1h-2zM204 249h1v1h-1zM206 249h2v1h-2zM209 249h2v1h-2zM212 249h2v1h-2zM145 250h1v1h-1zM148 250h4v1h-4zM201 250h1v1h-1zM204 250h1v1h-1zM147 251h1v1h-1zM144 276h6v1h-6zM152 276h3v1h-3zM156 276h3v1h-3zM160 276h1v1h-1zM162 276h1v1h-1zM167 276h1v1h-1zM143 277h2v1h-2zM146 277h2v1h-2zM150 277h4v1h-4zM155 277h1v1h-1zM159 277h5v1h-5zM166 277h1v1h-1zM168 277h1v1h-1zM143 278h4v1h-4zM148 278h3v1h-3zM152 278h2v1h-2zM155 278h10v1h-10zM168 278h1v1h-1zM171 278h2v1h-2zM143 279h13v1h-13zM157 279h4v1h-4zM162 279h3v1h-3zM167 279h2v1h-2zM143 280h21v1h-21zM165 280h4v1h-4zM171 280h1v1h-1zM143 281h20v1h-20zM164 281h4v1h-4zM173 281h1v1h-1zM175 281h1v1h-1zM143 282h23v1h-23zM173 282h2v1h-2zM143 283h24v1h-24zM171 283h5v1h-5zM143 284h20v1h-20zM164 284h3v1h-3zM168 284h2v1h-2zM171 284h1v1h-1zM173 284h2v1h-2zM176 284h1v1h-1zM143 285h22v1h-22zM168 285h1v1h-1zM171 285h1v1h-1zM175 285h1v1h-1zM143 286h23v1h-23zM167 286h1v1h-1zM169 286h1v1h-1zM172 286h1v1h-1zM175 286h1v1h-1zM90 287h1v1h-1zM95 287h1v1h-1zM97 287h2v1h-2zM143 287h20v1h-20zM165 287h1v1h-1zM169 287h2v1h-2zM174 287h1v1h-1zM87 288h1v1h-1zM89 288h2v1h-2zM93 288h1v1h-1zM97 288h2v1h-2zM103 288h1v1h-1zM143 288h21v1h-21zM165 288h3v1h-3zM171 288h1v1h-1zM173 288h1v1h-1zM175 288h1v1h-1zM87 289h4v1h-4zM92 289h1v1h-1zM94 289h2v1h-2zM97 289h3v1h-3zM101 289h3v1h-3zM143 289h20v1h-20zM164 289h1v1h-1zM166 289h1v1h-1zM169 289h3v1h-3zM173 289h1v1h-1zM37 290h1v1h-1zM40 290h1v1h-1zM88 290h1v1h-1zM90 290h1v1h-1zM92 290h3v1h-3zM97 290h4v1h-4zM102 290h1v1h-1zM143 290h22v1h-22zM166 290h6v1h-6zM38 291h2v1h-2zM87 291h2v1h-2zM90 291h13v1h-13zM143 291h23v1h-23zM167 291h3v1h-3zM171 291h2v1h-2zM33 292h1v1h-1zM35 292h3v1h-3zM39 292h1v1h-1zM87 292h18v1h-18zM106 292h2v1h-2zM143 292h22v1h-22zM169 292h1v1h-1zM171 292h1v1h-1zM30 293h3v1h-3zM34 293h1v1h-1zM37 293h6v1h-6zM45 293h1v1h-1zM47 293h1v1h-1zM87 293h20v1h-20zM108 293h1v1h-1zM143 293h20v1h-20zM164 293h2v1h-2zM167 293h1v1h-1zM30 294h1v1h-1zM32 294h2v1h-2zM35 294h1v1h-1zM37 294h11v1h-11zM87 294h18v1h-18zM106 294h1v1h-1zM108 294h1v1h-1zM143 294h21v1h-21zM165 294h1v1h-1zM169 294h1v1h-1zM32 295h3v1h-3zM36 295h8v1h-8zM47 295h1v1h-1zM49 295h1v1h-1zM87 295h18v1h-18zM106 295h2v1h-2zM143 295h18v1h-18zM162 295h5v1h-5zM30 296h18v1h-18zM49 296h1v1h-1zM87 296h21v1h-21zM109 296h1v1h-1zM143 296h16v1h-16zM160 296h2v1h-2zM163 296h1v1h-1zM166 296h1v1h-1zM30 297h19v1h-19zM87 297h21v1h-21zM143 297h20v1h-20zM30 298h19v1h-19zM87 298h19v1h-19zM107 298h2v1h-2zM143 298h21v1h-21zM31 299h17v1h-17zM49 299h1v1h-1zM87 299h17v1h-17zM105 299h2v1h-2zM143 299h12v1h-12zM156 299h5v1h-5zM30 300h8v1h-8zM39 300h2v1h-2zM42 300h7v1h-7zM87 300h18v1h-18zM106 300h1v1h-1zM143 300h11v1h-11zM155 300h2v1h-2zM158 300h1v1h-1zM160 300h2v1h-2zM31 301h2v1h-2zM35 301h3v1h-3zM39 301h3v1h-3zM43 301h1v1h-1zM45 301h3v1h-3zM87 301h8v1h-8zM96 301h10v1h-10zM143 301h12v1h-12zM158 301h2v1h-2zM31 302h2v1h-2zM35 302h4v1h-4zM40 302h4v1h-4zM87 302h7v1h-7zM96 302h3v1h-3zM101 302h2v1h-2zM143 302h4v1h-4zM148 302h3v1h-3zM153 302h2v1h-2zM159 302h1v1h-1zM35 303h1v1h-1zM37 303h6v1h-6zM44 303h1v1h-1zM87 303h7v1h-7zM95 303h1v1h-1zM98 303h3v1h-3zM144 303h7v1h-7zM152 303h2v1h-2zM155 303h1v1h-1zM37 304h2v1h-2zM40 304h1v1h-1zM87 304h4v1h-4zM92 304h2v1h-2zM98 304h2v1h-2zM143 304h1v1h-1zM145 304h2v1h-2zM148 304h4v1h-4zM153 304h3v1h-3zM89 305h3v1h-3zM93 305h1v1h-1zM143 305h3v1h-3zM147 305h2v1h-2zM150 305h1v1h-1zM152 305h2v1h-2zM144 306h3v1h-3zM148 306h1v1h-1zM153 306h1v1h-1zM146 307h1v1h-1z" fill="#000"/>
<path d="M226 40h1v1h-1zM104 41h2v1h-2zM108 41h1v1h-1zM117 41h1v1h-1zM131 41h1v1h-1zM229 41h1v1h-1zM234 41h1v1h-1zM105 42h1v1h-1zM115 42h2v1h-2zM150 42h1v1h-1zM207 42h1v1h-1zM211 42h1v1h-1zM234 42h1v1h-1zM91 43h1v1h-1zM103 43h1v1h-1zM113 43h1v1h-1zM115 43h1v1h-1zM147 43h1v1h-1zM209 43h1v1h-1zM219 43h1v1h-1zM221 43h1v1h-1zM223 43h1v1h-1zM225 43h1v1h-1zM232 43h1v1h-1zM88 44h1v1h-1zM93 44h1v1h-1zM156 44h1v1h-1zM206 44h1v1h-1zM211 44h1v1h-1zM214 44h1v1h-1zM216 44h1v1h-1zM235 44h1v1h-1zM119 45h1v1h-1zM121 45h1v1h-1zM144 45h1v1h-1zM161 45h1v1h-1zM215 45h1v1h-1zM242 45h1v1h-1zM85 46h1v1h-1zM165 46h1v1h-1zM167 46h1v1h-1zM161 47h1v1h-1zM163 47h1v1h-1zM172 47h1v1h-1zM166 48h1v1h-1zM75 49h1v1h-1zM169 50h3v1h-3zM241 50h1v1h-1zM248 50h2v1h-2zM49 51h1v1h-1zM240 51h1v1h-1zM251 51h1v1h-1zM37 52h1v1h-1zM171 52h2v1h-2zM241 52h1v1h-1zM42 53h1v1h-1zM46 53h1v1h-1zM49 53h1v1h-1zM51 53h1v1h-1zM247 53h1v1h-1zM33 54h1v1h-1zM35 54h1v1h-1zM49 54h1v1h-1zM51 54h1v1h-1zM132 54h1v1h-1zM29 55h2v1h-2zM47 55h1v1h-1zM49 55h1v1h-1zM124 55h1v1h-1zM131 55h1v1h-1zM172 55h1v1h-1zM245 55h1v1h-1zM64 56h1v1h-1zM122 56h1v1h-1zM124 56h1v1h-1zM177 56h1v1h-1zM59 57h1v1h-1zM61 57h1v1h-1zM64 57h1v1h-1zM119 57h1v1h-1zM121 57h1v1h-1zM240 57h1v1h-1zM120 58h1v1h-1zM173 58h2v1h-2zM191 58h1v1h-1zM119 59h1v1h-1zM248 59h1v1h-1zM119 60h1v1h-1zM69 61h1v1h-1zM174 61h1v1h-1zM241 61h1v1h-1zM173 62h1v1h-1zM59 64h1v1h-1zM114 64h1v1h-1zM129 64h1v1h-1zM135 64h1v1h-1zM230 64h1v1h-1zM119 65h1v1h-1zM127 65h1v1h-1zM237 65h1v1h-1zM71 66h1v1h-1zM171 66h1v1h-1zM184 66h1v1h-1zM228 66h1v1h-1zM230 66h1v1h-1zM112 67h1v1h-1zM120 67h1v1h-1zM127 67h1v1h-1zM174 67h1v1h-1zM180 67h1v1h-1zM229 67h1v1h-1zM58 68h1v1h-1zM66 68h1v1h-1zM110 68h2v1h-2zM115 68h1v1h-1zM120 68h1v1h-1zM125 68h1v1h-1zM219 68h1v1h-1zM55 69h1v1h-1zM168 69h1v1h-1zM188 69h1v1h-1zM221 69h1v1h-1zM230 69h1v1h-1zM57 70h1v1h-1zM65 70h1v1h-1zM106 70h1v1h-1zM168 70h1v1h-1zM219 70h1v1h-1zM221 70h1v1h-1zM50 71h2v1h-2zM105 71h1v1h-1zM168 71h1v1h-1zM228 71h1v1h-1zM49 72h1v1h-1zM106 72h2v1h-2zM109 72h1v1h-1zM218 72h1v1h-1zM53 73h1v1h-1zM103 73h1v1h-1zM107 73h1v1h-1zM159 73h3v1h-3zM52 74h1v1h-1zM68 74h1v1h-1zM164 74h1v1h-1zM215 74h1v1h-1zM233 74h1v1h-1zM42 75h2v1h-2zM60 75h1v1h-1zM63 75h1v1h-1zM100 75h1v1h-1zM157 75h1v1h-1zM162 75h1v1h-1zM40 76h1v1h-1zM42 76h2v1h-2zM93 76h1v1h-1zM165 76h1v1h-1zM215 76h1v1h-1zM101 77h1v1h-1zM157 77h1v1h-1zM202 77h1v1h-1zM208 77h1v1h-1zM39 78h1v1h-1zM44 78h1v1h-1zM88 78h1v1h-1zM157 78h1v1h-1zM29 79h1v1h-1zM38 79h1v1h-1zM53 79h1v1h-1zM94 79h2v1h-2zM159 79h2v1h-2zM201 79h1v1h-1zM204 79h1v1h-1zM208 79h1v1h-1zM207 80h1v1h-1zM213 80h1v1h-1zM29 81h1v1h-1zM97 82h1v1h-1zM212 82h1v1h-1zM89 84h1v1h-1zM98 84h1v1h-1zM203 86h1v1h-1zM161 87h1v1h-1zM143 97h1v1h-1zM156 97h1v1h-1zM166 97h1v1h-1zM189 97h1v1h-1zM103 98h1v1h-1zM172 98h1v1h-1zM174 98h1v1h-1zM170 99h1v1h-1zM95 100h1v1h-1zM171 100h1v1h-1zM92 101h1v1h-1zM96 101h1v1h-1zM174 101h1v1h-1zM43 103h1v1h-1zM93 103h1v1h-1zM99 103h2v1h-2zM111 104h1v1h-1zM179 104h1v1h-1zM38 105h1v1h-1zM107 105h1v1h-1zM107 107h1v1h-1zM121 108h1v1h-1zM34 109h1v1h-1zM108 110h2v1h-2zM174 110h1v1h-1zM179 110h1v1h-1zM113 111h1v1h-1zM174 111h1v1h-1zM108 112h1v1h-1zM115 112h1v1h-1zM176 112h1v1h-1zM186 112h1v1h-1zM32 113h1v1h-1zM38 113h2v1h-2zM44 113h1v1h-1zM48 113h1v1h-1zM40 114h1v1h-1zM47 114h1v1h-1zM111 114h1v1h-1zM171 114h1v1h-1zM48 115h1v1h-1zM115 115h1v1h-1zM49 116h1v1h-1zM170 116h1v1h-1zM110 117h1v1h-1zM177 117h1v1h-1zM110 118h1v1h-1zM169 118h1v1h-1zM181 118h1v1h-1zM50 119h1v1h-1zM112 119h1v1h-1zM123 119h1v1h-1zM126 119h1v1h-1zM64 120h1v1h-1zM112 120h2v1h-2zM181 120h1v1h-1zM166 121h1v1h-1zM56 122h1v1h-1zM109 123h1v1h-1zM123 123h1v1h-1zM167 123h1v1h-1zM180 123h1v1h-1zM116 124h1v1h-1zM175 124h1v1h-1zM51 125h1v1h-1zM167 125h1v1h-1zM109 126h1v1h-1zM163 126h1v1h-1zM172 127h1v1h-1zM176 127h1v1h-1zM186 127h1v1h-1zM67 128h1v1h-1zM167 129h1v1h-1zM52 130h1v1h-1zM101 130h1v1h-1zM158 130h1v1h-1zM166 130h1v1h-1zM176 130h1v1h-1zM109 131h1v1h-1zM96 132h1v1h-1zM43 133h1v1h-1zM154 133h2v1h-2zM158 133h1v1h-1zM34 134h2v1h-2zM96 134h1v1h-1zM99 134h1v1h-1zM143 134h2v1h-2zM94 135h1v1h-1zM142 135h1v1h-1zM35 136h1v1h-1zM37 136h1v1h-1zM90 136h1v1h-1zM96 136h1v1h-1zM145 136h3v1h-3zM150 136h1v1h-1zM32 137h1v1h-1zM90 137h1v1h-1zM39 138h1v1h-1zM87 138h1v1h-1zM91 138h1v1h-1zM145 138h1v1h-1zM42 139h1v1h-1zM38 146h1v1h-1zM51 147h1v1h-1zM203 213h1v1h-1zM206 214h1v1h-1zM213 214h1v1h-1zM233 214h1v1h-1zM238 214h1v1h-1zM220 215h1v1h-1zM95 216h1v1h-1zM204 216h1v1h-1zM216 216h1v1h-1zM227 216h1v1h-1zM237 216h1v1h-1zM119 217h1v1h-1zM162 217h1v1h-1zM201 217h2v1h-2zM210 217h1v1h-1zM213 217h1v1h-1zM215 217h3v1h-3zM219 217h1v1h-1zM246 217h1v1h-1zM119 218h1v1h-1zM193 218h1v1h-1zM209 218h1v1h-1zM220 218h1v1h-1zM228 218h1v1h-1zM231 218h1v1h-1zM235 218h1v1h-1zM244 218h1v1h-1zM145 219h1v1h-1zM153 219h1v1h-1zM155 219h1v1h-1zM158 219h1v1h-1zM203 219h1v1h-1zM213 219h1v1h-1zM230 219h3v1h-3zM241 219h2v1h-2zM162 220h1v1h-1zM166 220h1v1h-1zM194 220h1v1h-1zM238 220h1v1h-1zM245 220h1v1h-1zM113 221h1v1h-1zM121 221h1v1h-1zM143 221h1v1h-1zM166 221h1v1h-1zM105 222h1v1h-1zM115 222h1v1h-1zM159 222h2v1h-2zM162 222h1v1h-1zM164 222h1v1h-1zM172 222h1v1h-1zM243 222h1v1h-1zM88 223h2v1h-2zM91 223h1v1h-1zM94 223h1v1h-1zM101 223h1v1h-1zM104 223h1v1h-1zM106 223h1v1h-1zM115 223h1v1h-1zM125 223h1v1h-1zM243 223h1v1h-1zM91 224h1v1h-1zM95 224h2v1h-2zM98 224h1v1h-1zM107 224h1v1h-1zM115 224h1v1h-1zM165 224h1v1h-1zM103 225h1v1h-1zM172 225h1v1h-1zM219 225h1v1h-1zM250 225h1v1h-1zM48 226h1v1h-1zM125 226h1v1h-1zM165 226h1v1h-1zM243 226h1v1h-1zM247 226h1v1h-1zM38 227h1v1h-1zM56 227h1v1h-1zM126 227h1v1h-1zM166 227h1v1h-1zM125 228h1v1h-1zM127 228h1v1h-1zM166 228h1v1h-1zM244 228h1v1h-1zM36 229h1v1h-1zM167 229h1v1h-1zM178 229h1v1h-1zM52 230h1v1h-1zM57 230h1v1h-1zM167 230h2v1h-2zM236 230h1v1h-1zM32 231h1v1h-1zM36 231h1v1h-1zM121 231h1v1h-1zM168 231h1v1h-1zM177 231h1v1h-1zM233 231h1v1h-1zM242 231h1v1h-1zM34 232h1v1h-1zM174 232h1v1h-1zM176 232h1v1h-1zM236 232h1v1h-1zM31 233h1v1h-1zM38 233h1v1h-1zM48 233h2v1h-2zM168 233h2v1h-2zM222 233h1v1h-1zM230 233h1v1h-1zM45 234h1v1h-1zM48 234h1v1h-1zM52 234h1v1h-1zM113 234h1v1h-1zM167 234h1v1h-1zM177 234h1v1h-1zM229 234h1v1h-1zM109 235h1v1h-1zM115 235h2v1h-2zM167 235h1v1h-1zM173 235h1v1h-1zM179 235h1v1h-1zM232 235h1v1h-1zM56 236h1v1h-1zM128 236h1v1h-1zM172 236h1v1h-1zM226 236h2v1h-2zM246 236h1v1h-1zM56 237h1v1h-1zM105 237h1v1h-1zM167 237h1v1h-1zM236 237h1v1h-1zM60 238h1v1h-1zM126 238h1v1h-1zM224 238h1v1h-1zM230 238h1v1h-1zM63 239h1v1h-1zM107 239h1v1h-1zM114 239h1v1h-1zM233 239h1v1h-1zM69 240h1v1h-1zM129 240h1v1h-1zM166 240h1v1h-1zM57 241h1v1h-1zM62 241h2v1h-2zM166 241h1v1h-1zM225 241h1v1h-1zM58 242h1v1h-1zM106 242h1v1h-1zM167 242h1v1h-1zM224 242h1v1h-1zM54 243h1v1h-1zM57 243h1v1h-1zM66 243h1v1h-1zM121 243h1v1h-1zM172 243h1v1h-1zM223 243h1v1h-1zM235 243h1v1h-1zM52 244h2v1h-2zM55 244h1v1h-1zM104 244h1v1h-1zM106 244h1v1h-1zM160 244h1v1h-1zM165 244h2v1h-2zM229 244h1v1h-1zM51 245h1v1h-1zM53 245h1v1h-1zM106 245h1v1h-1zM163 245h1v1h-1zM171 245h1v1h-1zM232 245h1v1h-1zM58 246h2v1h-2zM104 246h1v1h-1zM118 246h1v1h-1zM120 246h1v1h-1zM160 246h1v1h-1zM232 246h1v1h-1zM50 247h1v1h-1zM99 247h1v1h-1zM103 247h1v1h-1zM112 247h1v1h-1zM164 247h1v1h-1zM225 247h1v1h-1zM40 248h2v1h-2zM43 248h1v1h-1zM51 248h1v1h-1zM91 248h3v1h-3zM100 248h1v1h-1zM30 249h1v1h-1zM32 249h1v1h-1zM35 249h1v1h-1zM41 249h2v1h-2zM216 249h1v1h-1zM221 249h1v1h-1zM224 249h1v1h-1zM33 250h1v1h-1zM35 250h1v1h-1zM38 250h1v1h-1zM43 250h2v1h-2zM89 250h1v1h-1zM111 250h1v1h-1zM154 250h1v1h-1zM41 251h1v1h-1zM60 251h1v1h-1zM87 251h1v1h-1zM92 251h1v1h-1zM145 251h1v1h-1zM158 251h1v1h-1zM201 251h2v1h-2zM205 251h1v1h-1zM216 251h1v1h-1zM36 252h1v1h-1zM56 252h1v1h-1zM89 252h1v1h-1zM204 252h1v1h-1zM210 252h1v1h-1zM38 253h1v1h-1zM204 253h1v1h-1zM217 253h1v1h-1zM29 254h1v1h-1zM89 254h1v1h-1zM98 254h1v1h-1zM205 254h1v1h-1zM211 254h1v1h-1zM147 256h1v1h-1zM90 257h1v1h-1zM220 257h1v1h-1zM143 258h1v1h-1zM205 258h1v1h-1zM144 269h1v1h-1zM167 270h1v1h-1zM146 272h1v1h-1zM174 272h1v1h-1zM152 273h2v1h-2zM159 274h1v1h-1zM161 274h1v1h-1zM168 274h1v1h-1zM149 275h1v1h-1zM153 275h1v1h-1zM156 275h1v1h-1zM158 275h1v1h-1zM177 275h1v1h-1zM170 276h1v1h-1zM172 276h2v1h-2zM173 278h1v1h-1zM175 278h2v1h-2zM44 279h1v1h-1zM96 279h1v1h-1zM177 280h2v1h-2zM180 280h1v1h-1zM30 281h1v1h-1zM47 281h1v1h-1zM95 282h1v1h-1zM97 282h1v1h-1zM40 283h1v1h-1zM186 283h1v1h-1zM124 284h1v1h-1zM177 284h1v1h-1zM96 285h1v1h-1zM177 285h1v1h-1zM87 286h1v1h-1zM100 286h1v1h-1zM102 286h1v1h-1zM110 286h1v1h-1zM178 286h1v1h-1zM40 287h1v1h-1zM44 287h1v1h-1zM48 288h1v1h-1zM30 289h1v1h-1zM35 289h2v1h-2zM63 289h1v1h-1zM180 289h1v1h-1zM182 289h1v1h-1zM189 289h1v1h-1zM175 290h1v1h-1zM32 291h1v1h-1zM47 291h1v1h-1zM55 291h1v1h-1zM108 291h1v1h-1zM174 291h1v1h-1zM108 292h1v1h-1zM174 292h1v1h-1zM54 293h1v1h-1zM172 293h1v1h-1zM177 293h1v1h-1zM52 294h1v1h-1zM65 296h1v1h-1zM112 296h1v1h-1zM114 296h1v1h-1zM112 297h1v1h-1zM116 297h1v1h-1zM174 297h1v1h-1zM179 297h1v1h-1zM114 298h1v1h-1zM166 298h1v1h-1zM53 299h1v1h-1zM164 299h1v1h-1zM176 299h1v1h-1zM49 300h1v1h-1zM109 300h1v1h-1zM161 301h1v1h-1zM58 302h1v1h-1zM106 302h1v1h-1zM109 302h1v1h-1zM182 302h1v1h-1zM103 303h1v1h-1zM168 303h1v1h-1zM171 303h1v1h-1zM33 304h1v1h-1zM44 304h1v1h-1zM102 304h1v1h-1zM106 304h1v1h-1zM35 305h1v1h-1zM39 305h1v1h-1zM45 305h1v1h-1zM57 305h1v1h-1zM101 305h1v1h-1zM171 305h1v1h-1zM42 306h2v1h-2zM104 306h1v1h-1zM108 306h1v1h-1zM149 306h1v1h-1zM160 306h2v1h-2zM57 307h1v1h-1zM92 307h1v1h-1zM103 307h1v1h-1zM105 307h1v1h-1zM152 307h1v1h-1zM155 307h1v1h-1zM162 307h1v1h-1zM91 308h1v1h-1zM103 308h1v1h-1zM112 308h1v1h-1zM149 308h1v1h-1zM44 309h1v1h-1zM143 309h1v1h-1zM146 309h2v1h-2zM155 309h1v1h-1zM87 310h1v1h-1zM97 310h1v1h-1zM145 310h1v1h-1zM158 310h1v1h-1zM94 311h1v1h-1zM146 311h2v1h-2zM45 314h1v1h-1zM144 314h1v1h-1zM43 316h1v1h-1zM143 316h1v1h-1zM115 321h1v1h-1z" fill="#666"/>
<line x1="5.5" y1="46" x2="5.5" y2="119.5" stroke="#000" stroke-width="1.1"/>
<path d="M2.2 48.5 L5.5 41.6 L8.8 48.5 Z" fill="#000"/>
<text transform="translate(20.9 79.8) rotate(-90)" font-family="Liberation Serif" font-size="11.8" text-anchor="start" fill="#000" stroke="#000" stroke-width="0.28">Peptide</text>
<text transform="translate(22.0 147.0) rotate(-90)" font-family="Liberation Serif" font-size="11.7" text-anchor="start" fill="#000" stroke="#000" stroke-width="0.28">IL-12,IL-18</text>
<text transform="translate(10.8 147.4) rotate(-90)" font-family="Liberation Serif" font-size="11.3" text-anchor="start" fill="#000" stroke="#000" stroke-width="0.28">IFNY</text>
<text x="31.0" y="166.9" font-family="Liberation Serif" font-size="13.4" text-anchor="start" fill="#000" stroke="#000" stroke-width="0.3">CD40L</text>
<line x1="71" y1="161.3" x2="247" y2="160.8" stroke="#000" stroke-width="1.1"/>
<path d="M245.5 157.4 L253.2 160.8 L245.5 164.2 Z" fill="#000"/>
<line x1="5.5" y1="218.8" x2="5.5" y2="292.3" stroke="#000" stroke-width="1.1"/>
<path d="M2.2 221.3 L5.5 214.4 L8.8 221.3 Z" fill="#000"/>
<text transform="translate(20.9 252.60000000000002) rotate(-90)" font-family="Liberation Serif" font-size="11.8" text-anchor="start" fill="#000" stroke="#000" stroke-width="0.28">Peptide</text>
<text transform="translate(22.0 320.6) rotate(-90)" font-family="Liberation Serif" font-size="11.7" text-anchor="start" fill="#000" stroke="#000" stroke-width="0.28">IL-12,IL-18</text>
<text transform="translate(10.8 320.20000000000005) rotate(-90)" font-family="Liberation Serif" font-size="11.3" text-anchor="start" fill="#000" stroke="#000" stroke-width="0.28">IFNY</text>
<text x="32.4" y="338.9" font-family="Liberation Serif" font-size="13.4" text-anchor="start" fill="#000" stroke="#000" stroke-width="0.3">CD40L</text>
<line x1="71" y1="334.1" x2="247" y2="333.6" stroke="#000" stroke-width="1.1"/>
<path d="M245.5 330.20000000000005 L253.2 333.6 L245.5 337.0 Z" fill="#000"/>
<line x1="335.5" y1="121.5" x2="514.5" y2="121.5" stroke="#4a4a4a" stroke-width="1.0"/>
<line x1="335.5" y1="96.5" x2="514.5" y2="96.5" stroke="#4a4a4a" stroke-width="1.0"/>
<line x1="335.5" y1="71.5" x2="514.5" y2="71.5" stroke="#4a4a4a" stroke-width="1.0"/>
<line x1="335.5" y1="47.5" x2="514.5" y2="47.5" stroke="#4a4a4a" stroke-width="1.0"/>
<line x1="335.5" y1="22.5" x2="514.5" y2="22.5" stroke="#4a4a4a" stroke-width="1.0"/>
<rect x="335.5" y="17.5" width="179.0" height="128.0" fill="none" stroke="#000" stroke-width="1.4"/>
<line x1="333.0" y1="145.85" x2="335.5" y2="145.85" stroke="#000" stroke-width="1"/>
<line x1="333.0" y1="121.21" x2="335.5" y2="121.21" stroke="#000" stroke-width="1"/>
<line x1="333.0" y1="96.57" x2="335.5" y2="96.57" stroke="#000" stroke-width="1"/>
<line x1="333.0" y1="71.92999999999999" x2="335.5" y2="71.92999999999999" stroke="#000" stroke-width="1"/>
<line x1="333.0" y1="47.28999999999999" x2="335.5" y2="47.28999999999999" stroke="#000" stroke-width="1"/>
<line x1="333.0" y1="22.64999999999999" x2="335.5" y2="22.64999999999999" stroke="#000" stroke-width="1"/>
<line x1="336.0" y1="145.5" x2="336.0" y2="147.7" stroke="#000" stroke-width="1"/>
<line x1="350.35" y1="145.5" x2="350.35" y2="147.7" stroke="#000" stroke-width="1"/>
<line x1="364.7" y1="145.5" x2="364.7" y2="147.7" stroke="#000" stroke-width="1"/>
<line x1="379.05" y1="145.5" x2="379.05" y2="147.7" stroke="#000" stroke-width="1"/>
<line x1="393.4" y1="145.5" x2="393.4" y2="147.7" stroke="#000" stroke-width="1"/>
<line x1="407.75" y1="145.5" x2="407.75" y2="147.7" stroke="#000" stroke-width="1"/>
<line x1="422.1" y1="145.5" x2="422.1" y2="147.7" stroke="#000" stroke-width="1"/>
<line x1="436.45" y1="145.5" x2="436.45" y2="147.7" stroke="#000" stroke-width="1"/>
<line x1="450.8" y1="145.5" x2="450.8" y2="147.7" stroke="#000" stroke-width="1"/>
<line x1="465.15" y1="145.5" x2="465.15" y2="147.7" stroke="#000" stroke-width="1"/>
<line x1="479.5" y1="145.5" x2="479.5" y2="147.7" stroke="#000" stroke-width="1"/>
<line x1="493.85" y1="145.5" x2="493.85" y2="147.7" stroke="#000" stroke-width="1"/>
<line x1="508.2" y1="145.5" x2="508.2" y2="147.7" stroke="#000" stroke-width="1"/>
<text x="330.7" y="148.334" font-family="Liberation Sans" font-size="6.9" text-anchor="end" fill="#000" stroke="#000" stroke-width="0.05">0</text>
<text x="330.7" y="123.69399999999999" font-family="Liberation Sans" font-size="6.9" text-anchor="end" fill="#000" stroke="#000" stroke-width="0.05">5</text>
<text x="330.7" y="99.05399999999999" font-family="Liberation Sans" font-size="6.9" text-anchor="end" fill="#000" stroke="#000" stroke-width="0.05">10</text>
<text x="330.7" y="74.41399999999999" font-family="Liberation Sans" font-size="6.9" text-anchor="end" fill="#000" stroke="#000" stroke-width="0.05">15</text>
<text x="330.7" y="49.773999999999994" font-family="Liberation Sans" font-size="6.9" text-anchor="end" fill="#000" stroke="#000" stroke-width="0.05">20</text>
<text x="330.7" y="25.133999999999993" font-family="Liberation Sans" font-size="6.9" text-anchor="end" fill="#000" stroke="#000" stroke-width="0.05">25</text>
<text x="336.0" y="157.0" font-family="Liberation Sans" font-size="7.3" text-anchor="middle" fill="#000" stroke="#000" stroke-width="0.2">0</text>
<text x="364.7" y="157.0" font-family="Liberation Sans" font-size="7.3" text-anchor="middle" fill="#000" stroke="#000" stroke-width="0.2">2</text>
<text x="393.4" y="157.0" font-family="Liberation Sans" font-size="7.3" text-anchor="middle" fill="#000" stroke="#000" stroke-width="0.2">4</text>
<text x="422.1" y="157.0" font-family="Liberation Sans" font-size="7.3" text-anchor="middle" fill="#000" stroke="#000" stroke-width="0.2">6</text>
<text x="450.8" y="157.0" font-family="Liberation Sans" font-size="7.3" text-anchor="middle" fill="#000" stroke="#000" stroke-width="0.2">8</text>
<text x="479.5" y="157.0" font-family="Liberation Sans" font-size="7.3" text-anchor="middle" fill="#000" stroke="#000" stroke-width="0.2">10</text>
<text x="508.2" y="157.0" font-family="Liberation Sans" font-size="7.3" text-anchor="middle" fill="#000" stroke="#000" stroke-width="0.2">12</text>
<text x="406.3" y="169.2" font-family="Liberation Serif" font-size="11.5" font-weight="bold" text-anchor="start" fill="#000">Time (h)</text>
<text transform="translate(319.9 156.6) rotate(-90)" font-family="Liberation Serif" font-size="12.2" text-anchor="start" fill="#000">% CD40L+ CD8+ T cells</text>
<path d="M336.00 145.85 L350.35 129.09 L364.70 84.25 L379.05 85.73 L407.75 114.80 L422.10 115.79 L450.80 119.73 L479.50 123.43 L508.20 123.18" fill="none" stroke="#000" stroke-width="1.0"/>
<path d="M336.00 145.85 L350.35 145.60 L364.70 144.37 L379.05 137.97 L407.75 121.21 L422.10 121.95 L450.80 112.34 L479.50 109.38 L508.20 103.96" fill="none" stroke="#000" stroke-width="1.0"/>
<path d="M336.00 145.85 L350.35 128.60 L364.70 83.76 L379.05 84.74 L407.75 97.56 L422.10 102.48 L450.80 102.48 L479.50 106.18 L508.20 108.40" fill="none" stroke="#000" stroke-width="1.0"/>
<line x1="350.35" y1="137.96519999999998" x2="350.35" y2="118.746" stroke="#222" stroke-width="0.85"/>
<line x1="348.55" y1="137.96519999999998" x2="352.15000000000003" y2="137.96519999999998" stroke="#222" stroke-width="0.85"/>
<line x1="348.55" y1="118.746" x2="352.15000000000003" y2="118.746" stroke="#222" stroke-width="0.85"/>
<line x1="364.7" y1="92.6276" x2="364.7" y2="75.8724" stroke="#222" stroke-width="0.85"/>
<line x1="362.9" y1="92.6276" x2="366.5" y2="92.6276" stroke="#222" stroke-width="0.85"/>
<line x1="362.9" y1="75.8724" x2="366.5" y2="75.8724" stroke="#222" stroke-width="0.85"/>
<line x1="379.05" y1="93.6132" x2="379.05" y2="78.3364" stroke="#222" stroke-width="0.85"/>
<line x1="377.25" y1="93.6132" x2="380.85" y2="93.6132" stroke="#222" stroke-width="0.85"/>
<line x1="377.25" y1="78.3364" x2="380.85" y2="78.3364" stroke="#222" stroke-width="0.85"/>
<line x1="407.75" y1="119.7316" x2="407.75" y2="109.3828" stroke="#222" stroke-width="0.85"/>
<line x1="405.95" y1="119.7316" x2="409.55" y2="119.7316" stroke="#222" stroke-width="0.85"/>
<line x1="405.95" y1="109.3828" x2="409.55" y2="109.3828" stroke="#222" stroke-width="0.85"/>
<line x1="422.1" y1="121.21" x2="422.1" y2="111.35399999999998" stroke="#222" stroke-width="0.85"/>
<line x1="420.3" y1="121.21" x2="423.90000000000003" y2="121.21" stroke="#222" stroke-width="0.85"/>
<line x1="420.3" y1="111.35399999999998" x2="423.90000000000003" y2="111.35399999999998" stroke="#222" stroke-width="0.85"/>
<line x1="450.8" y1="125.1524" x2="450.8" y2="115.29639999999999" stroke="#222" stroke-width="0.85"/>
<line x1="449.0" y1="125.1524" x2="452.6" y2="125.1524" stroke="#222" stroke-width="0.85"/>
<line x1="449.0" y1="115.29639999999999" x2="452.6" y2="115.29639999999999" stroke="#222" stroke-width="0.85"/>
<line x1="479.5" y1="126.13799999999999" x2="479.5" y2="119.7316" stroke="#222" stroke-width="0.85"/>
<line x1="477.7" y1="126.13799999999999" x2="481.3" y2="126.13799999999999" stroke="#222" stroke-width="0.85"/>
<line x1="477.7" y1="119.7316" x2="481.3" y2="119.7316" stroke="#222" stroke-width="0.85"/>
<line x1="508.2" y1="126.13799999999999" x2="508.2" y2="119.7316" stroke="#222" stroke-width="0.85"/>
<line x1="506.4" y1="126.13799999999999" x2="510.0" y2="126.13799999999999" stroke="#222" stroke-width="0.85"/>
<line x1="506.4" y1="119.7316" x2="510.0" y2="119.7316" stroke="#222" stroke-width="0.85"/>
<line x1="379.05" y1="142.8932" x2="379.05" y2="133.03719999999998" stroke="#222" stroke-width="0.85"/>
<line x1="377.25" y1="142.8932" x2="380.85" y2="142.8932" stroke="#222" stroke-width="0.85"/>
<line x1="377.25" y1="133.03719999999998" x2="380.85" y2="133.03719999999998" stroke="#222" stroke-width="0.85"/>
<line x1="407.75" y1="126.6308" x2="407.75" y2="116.282" stroke="#222" stroke-width="0.85"/>
<line x1="405.95" y1="126.6308" x2="409.55" y2="126.6308" stroke="#222" stroke-width="0.85"/>
<line x1="405.95" y1="116.282" x2="409.55" y2="116.282" stroke="#222" stroke-width="0.85"/>
<line x1="422.1" y1="131.066" x2="422.1" y2="106.91879999999999" stroke="#222" stroke-width="0.85"/>
<line x1="420.3" y1="131.066" x2="423.90000000000003" y2="131.066" stroke="#222" stroke-width="0.85"/>
<line x1="420.3" y1="106.91879999999999" x2="423.90000000000003" y2="106.91879999999999" stroke="#222" stroke-width="0.85"/>
<line x1="450.8" y1="117.26759999999999" x2="450.8" y2="106.42599999999999" stroke="#222" stroke-width="0.85"/>
<line x1="449.0" y1="117.26759999999999" x2="452.6" y2="117.26759999999999" stroke="#222" stroke-width="0.85"/>
<line x1="449.0" y1="106.42599999999999" x2="452.6" y2="106.42599999999999" stroke="#222" stroke-width="0.85"/>
<line x1="479.5" y1="116.282" x2="479.5" y2="102.9764" stroke="#222" stroke-width="0.85"/>
<line x1="477.7" y1="116.282" x2="481.3" y2="116.282" stroke="#222" stroke-width="0.85"/>
<line x1="477.7" y1="102.9764" x2="481.3" y2="102.9764" stroke="#222" stroke-width="0.85"/>
<line x1="508.2" y1="111.35399999999998" x2="508.2" y2="93.6132" stroke="#222" stroke-width="0.85"/>
<line x1="506.4" y1="111.35399999999998" x2="510.0" y2="111.35399999999998" stroke="#222" stroke-width="0.85"/>
<line x1="506.4" y1="93.6132" x2="510.0" y2="93.6132" stroke="#222" stroke-width="0.85"/>
<line x1="364.7" y1="91.642" x2="364.7" y2="75.3796" stroke="#222" stroke-width="0.85"/>
<line x1="362.9" y1="91.642" x2="366.5" y2="91.642" stroke="#222" stroke-width="0.85"/>
<line x1="362.9" y1="75.3796" x2="366.5" y2="75.3796" stroke="#222" stroke-width="0.85"/>
<line x1="379.05" y1="90.65639999999999" x2="379.05" y2="77.35079999999999" stroke="#222" stroke-width="0.85"/>
<line x1="377.25" y1="90.65639999999999" x2="380.85" y2="90.65639999999999" stroke="#222" stroke-width="0.85"/>
<line x1="377.25" y1="77.35079999999999" x2="380.85" y2="77.35079999999999" stroke="#222" stroke-width="0.85"/>
<line x1="407.75" y1="101.49799999999999" x2="407.75" y2="94.59879999999998" stroke="#222" stroke-width="0.85"/>
<line x1="405.95" y1="101.49799999999999" x2="409.55" y2="101.49799999999999" stroke="#222" stroke-width="0.85"/>
<line x1="405.95" y1="94.59879999999998" x2="409.55" y2="94.59879999999998" stroke="#222" stroke-width="0.85"/>
<line x1="422.1" y1="108.3972" x2="422.1" y2="95.58439999999999" stroke="#222" stroke-width="0.85"/>
<line x1="420.3" y1="108.3972" x2="423.90000000000003" y2="108.3972" stroke="#222" stroke-width="0.85"/>
<line x1="420.3" y1="95.58439999999999" x2="423.90000000000003" y2="95.58439999999999" stroke="#222" stroke-width="0.85"/>
<line x1="450.8" y1="107.41159999999999" x2="450.8" y2="94.106" stroke="#222" stroke-width="0.85"/>
<line x1="449.0" y1="107.41159999999999" x2="452.6" y2="107.41159999999999" stroke="#222" stroke-width="0.85"/>
<line x1="449.0" y1="94.106" x2="452.6" y2="94.106" stroke="#222" stroke-width="0.85"/>
<line x1="479.5" y1="111.35399999999998" x2="479.5" y2="99.03399999999999" stroke="#222" stroke-width="0.85"/>
<line x1="477.7" y1="111.35399999999998" x2="481.3" y2="111.35399999999998" stroke="#222" stroke-width="0.85"/>
<line x1="477.7" y1="99.03399999999999" x2="481.3" y2="99.03399999999999" stroke="#222" stroke-width="0.85"/>
<line x1="508.2" y1="114.80359999999999" x2="508.2" y2="101.49799999999999" stroke="#222" stroke-width="0.85"/>
<line x1="506.4" y1="114.80359999999999" x2="510.0" y2="114.80359999999999" stroke="#222" stroke-width="0.85"/>
<line x1="506.4" y1="101.49799999999999" x2="510.0" y2="101.49799999999999" stroke="#222" stroke-width="0.85"/>
<line x1="508.2" y1="56.160399999999996" x2="508.2" y2="20.67880000000001" stroke="#222" stroke-width="0.85"/>
<line x1="506.4" y1="56.160399999999996" x2="510.0" y2="56.160399999999996" stroke="#222" stroke-width="0.85"/>
<line x1="506.4" y1="20.67880000000001" x2="510.0" y2="20.67880000000001" stroke="#222" stroke-width="0.85"/>
<circle cx="336.00" cy="145.85" r="2.55" fill="#000" stroke="#000" stroke-width="1.0"/>
<circle cx="350.35" cy="129.09" r="2.55" fill="#000" stroke="#000" stroke-width="1.0"/>
<circle cx="364.70" cy="84.25" r="2.55" fill="#000" stroke="#000" stroke-width="1.0"/>
<circle cx="379.05" cy="85.73" r="2.55" fill="#000" stroke="#000" stroke-width="1.0"/>
<circle cx="407.75" cy="114.80" r="2.55" fill="#000" stroke="#000" stroke-width="1.0"/>
<circle cx="422.10" cy="115.79" r="2.55" fill="#000" stroke="#000" stroke-width="1.0"/>
<circle cx="450.80" cy="119.73" r="2.55" fill="#000" stroke="#000" stroke-width="1.0"/>
<circle cx="479.50" cy="123.43" r="2.55" fill="#000" stroke="#000" stroke-width="1.0"/>
<circle cx="508.20" cy="123.18" r="2.55" fill="#000" stroke="#000" stroke-width="1.0"/>
<rect x="333.45" y="143.30" width="5.10" height="5.10" fill="#000" stroke="#000" stroke-width="1.0"/>
<rect x="347.80" y="143.05" width="5.10" height="5.10" fill="#000" stroke="#000" stroke-width="1.0"/>
<rect x="362.15" y="141.82" width="5.10" height="5.10" fill="#000" stroke="#000" stroke-width="1.0"/>
<rect x="376.50" y="135.42" width="5.10" height="5.10" fill="#000" stroke="#000" stroke-width="1.0"/>
<rect x="405.20" y="118.66" width="5.10" height="5.10" fill="#000" stroke="#000" stroke-width="1.0"/>
<rect x="419.55" y="119.40" width="5.10" height="5.10" fill="#000" stroke="#000" stroke-width="1.0"/>
<rect x="448.25" y="109.79" width="5.10" height="5.10" fill="#000" stroke="#000" stroke-width="1.0"/>
<rect x="476.95" y="106.83" width="5.10" height="5.10" fill="#000" stroke="#000" stroke-width="1.0"/>
<rect x="505.65" y="101.41" width="5.10" height="5.10" fill="#000" stroke="#000" stroke-width="1.0"/>
<path d="M336.00 143.04 L338.68 148.02 L333.32 148.02 Z" fill="#000" stroke="#000" stroke-width="1.0"/>
<path d="M350.35 125.80 L353.03 130.77 L347.67 130.77 Z" fill="#000" stroke="#000" stroke-width="1.0"/>
<path d="M364.70 80.95 L367.38 85.92 L362.02 85.92 Z" fill="#000" stroke="#000" stroke-width="1.0"/>
<path d="M379.05 81.94 L381.73 86.91 L376.37 86.91 Z" fill="#000" stroke="#000" stroke-width="1.0"/>
<path d="M407.75 94.75 L410.43 99.72 L405.07 99.72 Z" fill="#000" stroke="#000" stroke-width="1.0"/>
<path d="M422.10 99.68 L424.78 104.65 L419.42 104.65 Z" fill="#000" stroke="#000" stroke-width="1.0"/>
<path d="M450.80 99.68 L453.48 104.65 L448.12 104.65 Z" fill="#000" stroke="#000" stroke-width="1.0"/>
<path d="M479.50 103.37 L482.18 108.35 L476.82 108.35 Z" fill="#000" stroke="#000" stroke-width="1.0"/>
<path d="M508.20 105.59 L510.88 110.56 L505.52 110.56 Z" fill="#000" stroke="#000" stroke-width="1.0"/>
<path d="M508.20 36.11 L510.50 38.91 L508.20 41.72 L505.90 38.91 Z" fill="#000" stroke="#000" stroke-width="1.0"/>
<rect x="336.5" y="17.5" width="89.0" height="30.0" fill="#fff" stroke="#000" stroke-width="1.0"/>
<line x1="345.6" y1="22.7" x2="358.5" y2="22.7" stroke="#000" stroke-width="1.3"/>
<circle cx="352.05" cy="22.70" r="1.80" fill="#000" stroke="#000" stroke-width="1.0"/>
<text x="359.8" y="25.15" font-family="Liberation Sans" font-size="6.65" text-anchor="start" fill="#000" stroke="#000" stroke-width="0.22">Peptide</text>
<line x1="345.6" y1="29.2" x2="358.5" y2="29.2" stroke="#000" stroke-width="1.3"/>
<rect x="350.25" y="27.40" width="3.60" height="3.60" fill="#000" stroke="#000" stroke-width="1.0"/>
<text x="359.8" y="31.65" font-family="Liberation Sans" font-size="6.65" text-anchor="start" fill="#000" stroke="#000" stroke-width="0.22">IL-12,IL-18</text>
<line x1="345.6" y1="36.0" x2="358.5" y2="36.0" stroke="#000" stroke-width="1.3"/>
<path d="M352.05 34.02 L353.94 37.53 L350.16 37.53 Z" fill="#000" stroke="#000" stroke-width="1.0"/>
<text x="359.8" y="38.45" font-family="Liberation Sans" font-size="6.65" text-anchor="start" fill="#000" stroke="#000" stroke-width="0.22">Peptide + IL-12,IL-18</text>
<line x1="345.6" y1="43.6" x2="358.5" y2="43.6" stroke="#000" stroke-width="1.3"/>
<path d="M352.05 41.62 L353.67 43.60 L352.05 45.58 L350.43 43.60 Z" fill="#000" stroke="#000" stroke-width="1.0"/>
<text x="359.8" y="46.050000000000004" font-family="Liberation Sans" font-size="6.65" text-anchor="start" fill="#000" stroke="#000" stroke-width="0.22">Peptide 12/12 BFA</text>
<line x1="336.5" y1="290.5" x2="515.5" y2="290.5" stroke="#4a4a4a" stroke-width="1.0"/>
<line x1="336.5" y1="265.5" x2="515.5" y2="265.5" stroke="#4a4a4a" stroke-width="1.0"/>
<line x1="336.5" y1="239.5" x2="515.5" y2="239.5" stroke="#4a4a4a" stroke-width="1.0"/>
<line x1="336.5" y1="214.5" x2="515.5" y2="214.5" stroke="#4a4a4a" stroke-width="1.0"/>
<rect x="336.5" y="188.5" width="179.0" height="127.0" fill="none" stroke="#000" stroke-width="1.4"/>
<line x1="334.0" y1="315.5" x2="336.5" y2="315.5" stroke="#000" stroke-width="1"/>
<line x1="334.0" y1="290.32" x2="336.5" y2="290.32" stroke="#000" stroke-width="1"/>
<line x1="334.0" y1="265.14" x2="336.5" y2="265.14" stroke="#000" stroke-width="1"/>
<line x1="334.0" y1="239.96" x2="336.5" y2="239.96" stroke="#000" stroke-width="1"/>
<line x1="334.0" y1="214.78" x2="336.5" y2="214.78" stroke="#000" stroke-width="1"/>
<line x1="334.0" y1="189.60000000000002" x2="336.5" y2="189.60000000000002" stroke="#000" stroke-width="1"/>
<line x1="337.6" y1="315.5" x2="337.6" y2="317.7" stroke="#000" stroke-width="1"/>
<line x1="351.83000000000004" y1="315.5" x2="351.83000000000004" y2="317.7" stroke="#000" stroke-width="1"/>
<line x1="366.06" y1="315.5" x2="366.06" y2="317.7" stroke="#000" stroke-width="1"/>
<line x1="380.29" y1="315.5" x2="380.29" y2="317.7" stroke="#000" stroke-width="1"/>
<line x1="394.52000000000004" y1="315.5" x2="394.52000000000004" y2="317.7" stroke="#000" stroke-width="1"/>
<line x1="408.75" y1="315.5" x2="408.75" y2="317.7" stroke="#000" stroke-width="1"/>
<line x1="422.98" y1="315.5" x2="422.98" y2="317.7" stroke="#000" stroke-width="1"/>
<line x1="437.21000000000004" y1="315.5" x2="437.21000000000004" y2="317.7" stroke="#000" stroke-width="1"/>
<line x1="451.44000000000005" y1="315.5" x2="451.44000000000005" y2="317.7" stroke="#000" stroke-width="1"/>
<line x1="465.67" y1="315.5" x2="465.67" y2="317.7" stroke="#000" stroke-width="1"/>
<line x1="479.90000000000003" y1="315.5" x2="479.90000000000003" y2="317.7" stroke="#000" stroke-width="1"/>
<line x1="494.13" y1="315.5" x2="494.13" y2="317.7" stroke="#000" stroke-width="1"/>
<line x1="508.36" y1="315.5" x2="508.36" y2="317.7" stroke="#000" stroke-width="1"/>
<text x="333.6" y="318.452" font-family="Liberation Sans" font-size="8.2" text-anchor="end" fill="#000" stroke="#000" stroke-width="0.2">0</text>
<text x="333.6" y="293.272" font-family="Liberation Sans" font-size="8.2" text-anchor="end" fill="#000" stroke="#000" stroke-width="0.2">5</text>
<text x="333.6" y="268.092" font-family="Liberation Sans" font-size="8.2" text-anchor="end" fill="#000" stroke="#000" stroke-width="0.2">10</text>
<text x="333.6" y="242.912" font-family="Liberation Sans" font-size="8.2" text-anchor="end" fill="#000" stroke="#000" stroke-width="0.2">15</text>
<text x="333.6" y="217.732" font-family="Liberation Sans" font-size="8.2" text-anchor="end" fill="#000" stroke="#000" stroke-width="0.2">20</text>
<text x="333.6" y="192.55200000000002" font-family="Liberation Sans" font-size="8.2" text-anchor="end" fill="#000" stroke="#000" stroke-width="0.2">25</text>
<text x="337.6" y="327.8" font-family="Liberation Sans" font-size="7.8" text-anchor="middle" fill="#000" stroke="#000" stroke-width="0.2">0</text>
<text x="366.06" y="327.8" font-family="Liberation Sans" font-size="7.8" text-anchor="middle" fill="#000" stroke="#000" stroke-width="0.2">2</text>
<text x="394.52000000000004" y="327.8" font-family="Liberation Sans" font-size="7.8" text-anchor="middle" fill="#000" stroke="#000" stroke-width="0.2">4</text>
<text x="422.98" y="327.8" font-family="Liberation Sans" font-size="7.8" text-anchor="middle" fill="#000" stroke="#000" stroke-width="0.2">6</text>
<text x="451.44000000000005" y="327.8" font-family="Liberation Sans" font-size="7.8" text-anchor="middle" fill="#000" stroke="#000" stroke-width="0.2">8</text>
<text x="479.90000000000003" y="327.8" font-family="Liberation Sans" font-size="7.8" text-anchor="middle" fill="#000" stroke="#000" stroke-width="0.2">10</text>
<text x="508.36" y="327.8" font-family="Liberation Sans" font-size="7.8" text-anchor="middle" fill="#000" stroke="#000" stroke-width="0.2">12</text>
<text x="407.1" y="338.6" font-family="Liberation Serif" font-size="11.5" font-weight="bold" text-anchor="start" fill="#000">Time (h)</text>
<text transform="translate(320.9 321.2) rotate(-90)" font-family="Liberation Serif" font-size="12.0" text-anchor="start" fill="#000">% CD40L+ CD8+ T cells</text>
<path d="M337.60 315.50 L351.83 303.67 L366.06 284.02 L380.29 273.20 L408.75 286.79 L422.98 293.85 L451.44 304.42 L479.90 304.92 L508.36 303.92" fill="none" stroke="#000" stroke-width="1.0"/>
<path d="M337.60 315.50 L351.83 314.24 L366.06 313.74 L380.29 312.73 L408.75 304.92 L422.98 300.39 L451.44 295.86 L479.90 291.33 L508.36 287.30" fill="none" stroke="#000" stroke-width="1.0"/>
<path d="M337.60 315.50 L351.83 307.69 L366.06 281.51 L380.29 272.69 L408.75 268.67 L422.98 268.16 L451.44 291.33 L479.90 290.57 L508.36 286.29" fill="none" stroke="#000" stroke-width="1.0"/>
<line x1="351.83000000000004" y1="307.4424" x2="351.83000000000004" y2="299.3848" stroke="#222" stroke-width="0.85"/>
<line x1="350.03000000000003" y1="307.4424" x2="353.63000000000005" y2="307.4424" stroke="#222" stroke-width="0.85"/>
<line x1="350.03000000000003" y1="299.3848" x2="353.63000000000005" y2="299.3848" stroke="#222" stroke-width="0.85"/>
<line x1="366.06" y1="292.5862" x2="366.06" y2="269.16880000000003" stroke="#222" stroke-width="0.85"/>
<line x1="364.26" y1="292.5862" x2="367.86" y2="292.5862" stroke="#222" stroke-width="0.85"/>
<line x1="364.26" y1="269.16880000000003" x2="367.86" y2="269.16880000000003" stroke="#222" stroke-width="0.85"/>
<line x1="380.29" y1="289.3128" x2="380.29" y2="257.586" stroke="#222" stroke-width="0.85"/>
<line x1="378.49" y1="289.3128" x2="382.09000000000003" y2="289.3128" stroke="#222" stroke-width="0.85"/>
<line x1="378.49" y1="257.586" x2="382.09000000000003" y2="257.586" stroke="#222" stroke-width="0.85"/>
<line x1="408.75" y1="298.6294" x2="408.75" y2="277.2264" stroke="#222" stroke-width="0.85"/>
<line x1="406.95" y1="298.6294" x2="410.55" y2="298.6294" stroke="#222" stroke-width="0.85"/>
<line x1="406.95" y1="277.2264" x2="410.55" y2="277.2264" stroke="#222" stroke-width="0.85"/>
<line x1="422.98" y1="301.3992" x2="422.98" y2="284.2768" stroke="#222" stroke-width="0.85"/>
<line x1="421.18" y1="301.3992" x2="424.78000000000003" y2="301.3992" stroke="#222" stroke-width="0.85"/>
<line x1="421.18" y1="284.2768" x2="424.78000000000003" y2="284.2768" stroke="#222" stroke-width="0.85"/>
<line x1="451.44000000000005" y1="309.9604" x2="451.44000000000005" y2="297.874" stroke="#222" stroke-width="0.85"/>
<line x1="449.64000000000004" y1="309.9604" x2="453.24000000000007" y2="309.9604" stroke="#222" stroke-width="0.85"/>
<line x1="449.64000000000004" y1="297.874" x2="453.24000000000007" y2="297.874" stroke="#222" stroke-width="0.85"/>
<line x1="479.90000000000003" y1="310.464" x2="479.90000000000003" y2="299.3848" stroke="#222" stroke-width="0.85"/>
<line x1="478.1" y1="310.464" x2="481.70000000000005" y2="310.464" stroke="#222" stroke-width="0.85"/>
<line x1="478.1" y1="299.3848" x2="481.70000000000005" y2="299.3848" stroke="#222" stroke-width="0.85"/>
<line x1="508.36" y1="307.946" x2="508.36" y2="299.3848" stroke="#222" stroke-width="0.85"/>
<line x1="506.56" y1="307.946" x2="510.16" y2="307.946" stroke="#222" stroke-width="0.85"/>
<line x1="506.56" y1="299.3848" x2="510.16" y2="299.3848" stroke="#222" stroke-width="0.85"/>
<line x1="408.75" y1="307.4424" x2="408.75" y2="301.9028" stroke="#222" stroke-width="0.85"/>
<line x1="406.95" y1="307.4424" x2="410.55" y2="307.4424" stroke="#222" stroke-width="0.85"/>
<line x1="406.95" y1="301.9028" x2="410.55" y2="301.9028" stroke="#222" stroke-width="0.85"/>
<line x1="422.98" y1="302.91" x2="422.98" y2="297.3704" stroke="#222" stroke-width="0.85"/>
<line x1="421.18" y1="302.91" x2="424.78000000000003" y2="302.91" stroke="#222" stroke-width="0.85"/>
<line x1="421.18" y1="297.3704" x2="424.78000000000003" y2="297.3704" stroke="#222" stroke-width="0.85"/>
<line x1="451.44000000000005" y1="298.8812" x2="451.44000000000005" y2="291.8308" stroke="#222" stroke-width="0.85"/>
<line x1="449.64000000000004" y1="298.8812" x2="453.24000000000007" y2="298.8812" stroke="#222" stroke-width="0.85"/>
<line x1="449.64000000000004" y1="291.8308" x2="453.24000000000007" y2="291.8308" stroke="#222" stroke-width="0.85"/>
<line x1="479.90000000000003" y1="297.3704" x2="479.90000000000003" y2="284.2768" stroke="#222" stroke-width="0.85"/>
<line x1="478.1" y1="297.3704" x2="481.70000000000005" y2="297.3704" stroke="#222" stroke-width="0.85"/>
<line x1="478.1" y1="284.2768" x2="481.70000000000005" y2="284.2768" stroke="#222" stroke-width="0.85"/>
<line x1="508.36" y1="290.32" x2="508.36" y2="283.2696" stroke="#222" stroke-width="0.85"/>
<line x1="506.56" y1="290.32" x2="510.16" y2="290.32" stroke="#222" stroke-width="0.85"/>
<line x1="506.56" y1="283.2696" x2="510.16" y2="283.2696" stroke="#222" stroke-width="0.85"/>
<line x1="351.83000000000004" y1="310.464" x2="351.83000000000004" y2="299.3848" stroke="#222" stroke-width="0.85"/>
<line x1="350.03000000000003" y1="310.464" x2="353.63000000000005" y2="310.464" stroke="#222" stroke-width="0.85"/>
<line x1="350.03000000000003" y1="299.3848" x2="353.63000000000005" y2="299.3848" stroke="#222" stroke-width="0.85"/>
<line x1="366.06" y1="292.838" x2="366.06" y2="269.16880000000003" stroke="#222" stroke-width="0.85"/>
<line x1="364.26" y1="292.838" x2="367.86" y2="292.838" stroke="#222" stroke-width="0.85"/>
<line x1="364.26" y1="269.16880000000003" x2="367.86" y2="269.16880000000003" stroke="#222" stroke-width="0.85"/>
<line x1="380.29" y1="285.284" x2="380.29" y2="258.5932" stroke="#222" stroke-width="0.85"/>
<line x1="378.49" y1="285.284" x2="382.09000000000003" y2="285.284" stroke="#222" stroke-width="0.85"/>
<line x1="378.49" y1="258.5932" x2="382.09000000000003" y2="258.5932" stroke="#222" stroke-width="0.85"/>
<line x1="408.75" y1="277.73" x2="408.75" y2="258.3414" stroke="#222" stroke-width="0.85"/>
<line x1="406.95" y1="277.73" x2="410.55" y2="277.73" stroke="#222" stroke-width="0.85"/>
<line x1="406.95" y1="258.3414" x2="410.55" y2="258.3414" stroke="#222" stroke-width="0.85"/>
<line x1="422.98" y1="277.4782" x2="422.98" y2="257.586" stroke="#222" stroke-width="0.85"/>
<line x1="421.18" y1="277.4782" x2="424.78000000000003" y2="277.4782" stroke="#222" stroke-width="0.85"/>
<line x1="421.18" y1="257.586" x2="424.78000000000003" y2="257.586" stroke="#222" stroke-width="0.85"/>
<line x1="451.44000000000005" y1="295.356" x2="451.44000000000005" y2="286.2912" stroke="#222" stroke-width="0.85"/>
<line x1="449.64000000000004" y1="295.356" x2="453.24000000000007" y2="295.356" stroke="#222" stroke-width="0.85"/>
<line x1="449.64000000000004" y1="286.2912" x2="453.24000000000007" y2="286.2912" stroke="#222" stroke-width="0.85"/>
<line x1="479.90000000000003" y1="295.356" x2="479.90000000000003" y2="284.2768" stroke="#222" stroke-width="0.85"/>
<line x1="478.1" y1="295.356" x2="481.70000000000005" y2="295.356" stroke="#222" stroke-width="0.85"/>
<line x1="478.1" y1="284.2768" x2="481.70000000000005" y2="284.2768" stroke="#222" stroke-width="0.85"/>
<line x1="508.36" y1="290.32" x2="508.36" y2="281.2552" stroke="#222" stroke-width="0.85"/>
<line x1="506.56" y1="290.32" x2="510.16" y2="290.32" stroke="#222" stroke-width="0.85"/>
<line x1="506.56" y1="281.2552" x2="510.16" y2="281.2552" stroke="#222" stroke-width="0.85"/>
<line x1="508.36" y1="270.6796" x2="508.36" y2="263.1256" stroke="#222" stroke-width="0.85"/>
<line x1="506.56" y1="270.6796" x2="510.16" y2="270.6796" stroke="#222" stroke-width="0.85"/>
<line x1="506.56" y1="263.1256" x2="510.16" y2="263.1256" stroke="#222" stroke-width="0.85"/>
<circle cx="337.60" cy="315.50" r="2.55" fill="#fff" stroke="#000" stroke-width="1.0"/>
<circle cx="351.83" cy="303.67" r="2.55" fill="#fff" stroke="#000" stroke-width="1.0"/>
<circle cx="366.06" cy="284.02" r="2.55" fill="#fff" stroke="#000" stroke-width="1.0"/>
<circle cx="380.29" cy="273.20" r="2.55" fill="#fff" stroke="#000" stroke-width="1.0"/>
<circle cx="408.75" cy="286.79" r="2.55" fill="#fff" stroke="#000" stroke-width="1.0"/>
<circle cx="422.98" cy="293.85" r="2.55" fill="#fff" stroke="#000" stroke-width="1.0"/>
<circle cx="451.44" cy="304.42" r="2.55" fill="#fff" stroke="#000" stroke-width="1.0"/>
<circle cx="479.90" cy="304.92" r="2.55" fill="#fff" stroke="#000" stroke-width="1.0"/>
<circle cx="508.36" cy="303.92" r="2.55" fill="#fff" stroke="#000" stroke-width="1.0"/>
<rect x="335.05" y="312.95" width="5.10" height="5.10" fill="#fff" stroke="#000" stroke-width="1.0"/>
<rect x="349.28" y="311.69" width="5.10" height="5.10" fill="#fff" stroke="#000" stroke-width="1.0"/>
<rect x="363.51" y="311.19" width="5.10" height="5.10" fill="#fff" stroke="#000" stroke-width="1.0"/>
<rect x="377.74" y="310.18" width="5.10" height="5.10" fill="#fff" stroke="#000" stroke-width="1.0"/>
<rect x="406.20" y="302.37" width="5.10" height="5.10" fill="#fff" stroke="#000" stroke-width="1.0"/>
<rect x="420.43" y="297.84" width="5.10" height="5.10" fill="#fff" stroke="#000" stroke-width="1.0"/>
<rect x="448.89" y="293.31" width="5.10" height="5.10" fill="#fff" stroke="#000" stroke-width="1.0"/>
<rect x="477.35" y="288.78" width="5.10" height="5.10" fill="#fff" stroke="#000" stroke-width="1.0"/>
<rect x="505.81" y="284.75" width="5.10" height="5.10" fill="#fff" stroke="#000" stroke-width="1.0"/>
<path d="M337.60 312.69 L340.28 317.67 L334.92 317.67 Z" fill="#fff" stroke="#000" stroke-width="1.0"/>
<path d="M351.83 304.89 L354.51 309.86 L349.15 309.86 Z" fill="#fff" stroke="#000" stroke-width="1.0"/>
<path d="M366.06 278.70 L368.74 283.67 L363.38 283.67 Z" fill="#fff" stroke="#000" stroke-width="1.0"/>
<path d="M380.29 269.89 L382.97 274.86 L377.61 274.86 Z" fill="#fff" stroke="#000" stroke-width="1.0"/>
<path d="M408.75 265.86 L411.43 270.83 L406.07 270.83 Z" fill="#fff" stroke="#000" stroke-width="1.0"/>
<path d="M422.98 265.36 L425.66 270.33 L420.30 270.33 Z" fill="#fff" stroke="#000" stroke-width="1.0"/>
<path d="M451.44 288.52 L454.12 293.49 L448.76 293.49 Z" fill="#fff" stroke="#000" stroke-width="1.0"/>
<path d="M479.90 287.77 L482.58 292.74 L477.22 292.74 Z" fill="#fff" stroke="#000" stroke-width="1.0"/>
<path d="M508.36 283.49 L511.04 288.46 L505.68 288.46 Z" fill="#fff" stroke="#000" stroke-width="1.0"/>
<path d="M508.36 264.35 L510.66 267.15 L508.36 269.96 L506.06 267.15 Z" fill="#fff" stroke="#000" stroke-width="1.0"/>
<rect x="336.5" y="188.5" width="85.0" height="29.0" fill="#fff" stroke="#000" stroke-width="1.0"/>
<line x1="342.7" y1="192.7" x2="356.2" y2="192.7" stroke="#000" stroke-width="1.3"/>
<circle cx="349.45" cy="192.70" r="1.80" fill="#fff" stroke="#000" stroke-width="1.0"/>
<text x="357.4" y="195.14999999999998" font-family="Liberation Sans" font-size="6.65" text-anchor="start" fill="#000" stroke="#000" stroke-width="0.22">Peptide</text>
<line x1="342.7" y1="199.2" x2="356.2" y2="199.2" stroke="#000" stroke-width="1.3"/>
<rect x="347.65" y="197.40" width="3.60" height="3.60" fill="#fff" stroke="#000" stroke-width="1.0"/>
<text x="357.4" y="201.64999999999998" font-family="Liberation Sans" font-size="6.65" text-anchor="start" fill="#000" stroke="#000" stroke-width="0.22">IL-12,IL-18</text>
<line x1="342.7" y1="206.8" x2="356.2" y2="206.8" stroke="#000" stroke-width="1.3"/>
<path d="M349.45 204.82 L351.34 208.33 L347.56 208.33 Z" fill="#fff" stroke="#000" stroke-width="1.0"/>
<text x="357.4" y="209.25" font-family="Liberation Sans" font-size="6.65" text-anchor="start" fill="#000" stroke="#000" stroke-width="0.22">Peptide + IL-12,IL-18</text>
<line x1="342.7" y1="214.0" x2="356.2" y2="214.0" stroke="#000" stroke-width="1.3"/>
<path d="M349.45 212.02 L351.07 214.00 L349.45 215.98 L347.83 214.00 Z" fill="#fff" stroke="#000" stroke-width="1.0"/>
<text x="357.4" y="216.45" font-family="Liberation Sans" font-size="6.65" text-anchor="start" fill="#000" stroke="#000" stroke-width="0.22">Peptide 12/12 BFA</text>
<line x1="340.5" y1="474.5" x2="518.5" y2="474.5" stroke="#4a4a4a" stroke-width="1.0"/>
<line x1="340.5" y1="453.5" x2="518.5" y2="453.5" stroke="#4a4a4a" stroke-width="1.0"/>
<line x1="340.5" y1="433.5" x2="518.5" y2="433.5" stroke="#4a4a4a" stroke-width="1.0"/>
<line x1="340.5" y1="413.5" x2="518.5" y2="413.5" stroke="#4a4a4a" stroke-width="1.0"/>
<line x1="340.5" y1="393.5" x2="518.5" y2="393.5" stroke="#4a4a4a" stroke-width="1.0"/>
<line x1="340.5" y1="372.5" x2="518.5" y2="372.5" stroke="#4a4a4a" stroke-width="1.0"/>
<rect x="340.5" y="362.5" width="178.0" height="132.0" fill="none" stroke="#000" stroke-width="1.4"/>
<line x1="338.0" y1="494.4" x2="340.5" y2="494.4" stroke="#000" stroke-width="1"/>
<line x1="338.0" y1="474.13" x2="340.5" y2="474.13" stroke="#000" stroke-width="1"/>
<line x1="338.0" y1="453.85999999999996" x2="340.5" y2="453.85999999999996" stroke="#000" stroke-width="1"/>
<line x1="338.0" y1="433.59" x2="340.5" y2="433.59" stroke="#000" stroke-width="1"/>
<line x1="338.0" y1="413.31999999999994" x2="340.5" y2="413.31999999999994" stroke="#000" stroke-width="1"/>
<line x1="338.0" y1="393.04999999999995" x2="340.5" y2="393.04999999999995" stroke="#000" stroke-width="1"/>
<line x1="338.0" y1="372.78" x2="340.5" y2="372.78" stroke="#000" stroke-width="1"/>
<line x1="341.0" y1="494.5" x2="341.0" y2="496.7" stroke="#000" stroke-width="1"/>
<line x1="355.2" y1="494.5" x2="355.2" y2="496.7" stroke="#000" stroke-width="1"/>
<line x1="369.4" y1="494.5" x2="369.4" y2="496.7" stroke="#000" stroke-width="1"/>
<line x1="383.6" y1="494.5" x2="383.6" y2="496.7" stroke="#000" stroke-width="1"/>
<line x1="397.8" y1="494.5" x2="397.8" y2="496.7" stroke="#000" stroke-width="1"/>
<line x1="412.0" y1="494.5" x2="412.0" y2="496.7" stroke="#000" stroke-width="1"/>
<line x1="426.2" y1="494.5" x2="426.2" y2="496.7" stroke="#000" stroke-width="1"/>
<line x1="440.4" y1="494.5" x2="440.4" y2="496.7" stroke="#000" stroke-width="1"/>
<line x1="454.6" y1="494.5" x2="454.6" y2="496.7" stroke="#000" stroke-width="1"/>
<line x1="468.8" y1="494.5" x2="468.8" y2="496.7" stroke="#000" stroke-width="1"/>
<line x1="483.0" y1="494.5" x2="483.0" y2="496.7" stroke="#000" stroke-width="1"/>
<line x1="497.2" y1="494.5" x2="497.2" y2="496.7" stroke="#000" stroke-width="1"/>
<line x1="511.4" y1="494.5" x2="511.4" y2="496.7" stroke="#000" stroke-width="1"/>
<text x="336.5" y="496.91999999999996" font-family="Liberation Sans" font-size="7.0" text-anchor="end" fill="#000" stroke="#000" stroke-width="0.05">0</text>
<text x="336.5" y="476.65" font-family="Liberation Sans" font-size="7.0" text-anchor="end" fill="#000" stroke="#000" stroke-width="0.05">20</text>
<text x="336.5" y="456.37999999999994" font-family="Liberation Sans" font-size="7.0" text-anchor="end" fill="#000" stroke="#000" stroke-width="0.05">40</text>
<text x="336.5" y="436.10999999999996" font-family="Liberation Sans" font-size="7.0" text-anchor="end" fill="#000" stroke="#000" stroke-width="0.05">60</text>
<text x="336.5" y="415.8399999999999" font-family="Liberation Sans" font-size="7.0" text-anchor="end" fill="#000" stroke="#000" stroke-width="0.05">80</text>
<text x="336.5" y="395.56999999999994" font-family="Liberation Sans" font-size="7.0" text-anchor="end" fill="#000" stroke="#000" stroke-width="0.05">100</text>
<text x="336.5" y="375.29999999999995" font-family="Liberation Sans" font-size="7.0" text-anchor="end" fill="#000" stroke="#000" stroke-width="0.05">120</text>
<text x="341.0" y="505.6" font-family="Liberation Sans" font-size="6.7" text-anchor="middle" fill="#000" stroke="#000" stroke-width="0.2">0</text>
<text x="369.4" y="505.6" font-family="Liberation Sans" font-size="6.7" text-anchor="middle" fill="#000" stroke="#000" stroke-width="0.2">2</text>
<text x="397.8" y="505.6" font-family="Liberation Sans" font-size="6.7" text-anchor="middle" fill="#000" stroke="#000" stroke-width="0.2">4</text>
<text x="426.2" y="505.6" font-family="Liberation Sans" font-size="6.7" text-anchor="middle" fill="#000" stroke="#000" stroke-width="0.2">6</text>
<text x="454.6" y="505.6" font-family="Liberation Sans" font-size="6.7" text-anchor="middle" fill="#000" stroke="#000" stroke-width="0.2">8</text>
<text x="483.0" y="505.6" font-family="Liberation Sans" font-size="6.7" text-anchor="middle" fill="#000" stroke="#000" stroke-width="0.2">10</text>
<text x="511.4" y="505.6" font-family="Liberation Sans" font-size="6.7" text-anchor="middle" fill="#000" stroke="#000" stroke-width="0.2">12</text>
<text x="407.2" y="516.9" font-family="Liberation Serif" font-size="11.5" font-weight="bold" text-anchor="start" fill="#000">Time (h)</text>
<text transform="translate(322.3 508.6) rotate(-90)" font-family="Liberation Serif" font-size="12.0" text-anchor="start" fill="#000">Maximum CD40L response (%)</text>
<path d="M341.00 494.40 L355.20 466.02 L369.40 393.05 L383.60 396.09 L412.00 442.41 L426.20 444.74 L454.60 452.24 L483.00 457.61 L511.40 456.50" fill="none" stroke="#000" stroke-width="1.0"/>
<path d="M341.00 494.40 L355.20 465.52 L369.40 412.31 L383.60 393.05 L412.00 421.43 L426.20 440.68 L454.60 467.34 L483.00 470.08 L511.40 464.00" fill="none" stroke="#000" stroke-width="1.0"/>
<path d="M341.00 494.40 L355.20 494.40 L369.40 492.37 L383.60 475.14 L412.00 434.60 L426.20 435.11 L454.60 413.32 L483.00 405.72 L511.40 393.05" fill="none" stroke="#000" stroke-width="1.0"/>
<path d="M341.00 494.40 L355.20 491.87 L369.40 489.33 L383.60 484.26 L412.00 455.89 L426.20 438.66 L454.60 423.45 L483.00 409.27 L511.40 393.05" fill="none" stroke="#000" stroke-width="1.0"/>
<line x1="355.2" y1="479.1975" x2="355.2" y2="455.88699999999994" stroke="#222" stroke-width="0.85"/>
<line x1="353.4" y1="479.1975" x2="357.0" y2="479.1975" stroke="#222" stroke-width="0.85"/>
<line x1="353.4" y1="455.88699999999994" x2="357.0" y2="455.88699999999994" stroke="#222" stroke-width="0.85"/>
<line x1="369.4" y1="397.104" x2="369.4" y2="388.38789999999995" stroke="#222" stroke-width="0.85"/>
<line x1="367.59999999999997" y1="397.104" x2="371.2" y2="397.104" stroke="#222" stroke-width="0.85"/>
<line x1="367.59999999999997" y1="388.38789999999995" x2="371.2" y2="388.38789999999995" stroke="#222" stroke-width="0.85"/>
<line x1="383.6" y1="406.22549999999995" x2="383.6" y2="390.0095" stroke="#222" stroke-width="0.85"/>
<line x1="381.8" y1="406.22549999999995" x2="385.40000000000003" y2="406.22549999999995" stroke="#222" stroke-width="0.85"/>
<line x1="381.8" y1="390.0095" x2="385.40000000000003" y2="390.0095" stroke="#222" stroke-width="0.85"/>
<line x1="412.0" y1="447.779" x2="412.0" y2="436.6305" stroke="#222" stroke-width="0.85"/>
<line x1="410.2" y1="447.779" x2="413.8" y2="447.779" stroke="#222" stroke-width="0.85"/>
<line x1="410.2" y1="436.6305" x2="413.8" y2="436.6305" stroke="#222" stroke-width="0.85"/>
<line x1="426.2" y1="449.806" x2="426.2" y2="438.65749999999997" stroke="#222" stroke-width="0.85"/>
<line x1="424.4" y1="449.806" x2="428.0" y2="449.806" stroke="#222" stroke-width="0.85"/>
<line x1="424.4" y1="438.65749999999997" x2="428.0" y2="438.65749999999997" stroke="#222" stroke-width="0.85"/>
<line x1="454.6" y1="456.90049999999997" x2="454.6" y2="446.7655" stroke="#222" stroke-width="0.85"/>
<line x1="452.8" y1="456.90049999999997" x2="456.40000000000003" y2="456.90049999999997" stroke="#222" stroke-width="0.85"/>
<line x1="452.8" y1="446.7655" x2="456.40000000000003" y2="446.7655" stroke="#222" stroke-width="0.85"/>
<line x1="483.0" y1="460.9545" x2="483.0" y2="453.85999999999996" stroke="#222" stroke-width="0.85"/>
<line x1="481.2" y1="460.9545" x2="484.8" y2="460.9545" stroke="#222" stroke-width="0.85"/>
<line x1="481.2" y1="453.85999999999996" x2="484.8" y2="453.85999999999996" stroke="#222" stroke-width="0.85"/>
<line x1="511.4" y1="462.9815" x2="511.4" y2="450.81949999999995" stroke="#222" stroke-width="0.85"/>
<line x1="509.59999999999997" y1="462.9815" x2="513.1999999999999" y2="462.9815" stroke="#222" stroke-width="0.85"/>
<line x1="509.59999999999997" y1="450.81949999999995" x2="513.1999999999999" y2="450.81949999999995" stroke="#222" stroke-width="0.85"/>
<line x1="355.2" y1="479.1975" x2="355.2" y2="455.88699999999994" stroke="#222" stroke-width="0.85"/>
<line x1="353.4" y1="479.1975" x2="357.0" y2="479.1975" stroke="#222" stroke-width="0.85"/>
<line x1="353.4" y1="455.88699999999994" x2="357.0" y2="455.88699999999994" stroke="#222" stroke-width="0.85"/>
<line x1="369.4" y1="435.61699999999996" x2="369.4" y2="393.04999999999995" stroke="#222" stroke-width="0.85"/>
<line x1="367.59999999999997" y1="435.61699999999996" x2="371.2" y2="435.61699999999996" stroke="#222" stroke-width="0.85"/>
<line x1="367.59999999999997" y1="393.04999999999995" x2="371.2" y2="393.04999999999995" stroke="#222" stroke-width="0.85"/>
<line x1="383.6" y1="398.11749999999995" x2="383.6" y2="387.98249999999996" stroke="#222" stroke-width="0.85"/>
<line x1="381.8" y1="398.11749999999995" x2="385.40000000000003" y2="398.11749999999995" stroke="#222" stroke-width="0.85"/>
<line x1="381.8" y1="387.98249999999996" x2="385.40000000000003" y2="387.98249999999996" stroke="#222" stroke-width="0.85"/>
<line x1="412.0" y1="443.72499999999997" x2="412.0" y2="398.11749999999995" stroke="#222" stroke-width="0.85"/>
<line x1="410.2" y1="443.72499999999997" x2="413.8" y2="443.72499999999997" stroke="#222" stroke-width="0.85"/>
<line x1="410.2" y1="398.11749999999995" x2="413.8" y2="398.11749999999995" stroke="#222" stroke-width="0.85"/>
<line x1="426.2" y1="446.7655" x2="426.2" y2="433.59" stroke="#222" stroke-width="0.85"/>
<line x1="424.4" y1="446.7655" x2="428.0" y2="446.7655" stroke="#222" stroke-width="0.85"/>
<line x1="424.4" y1="433.59" x2="428.0" y2="433.59" stroke="#222" stroke-width="0.85"/>
<line x1="454.6" y1="473.1165" x2="454.6" y2="459.941" stroke="#222" stroke-width="0.85"/>
<line x1="452.8" y1="473.1165" x2="456.40000000000003" y2="473.1165" stroke="#222" stroke-width="0.85"/>
<line x1="452.8" y1="459.941" x2="456.40000000000003" y2="459.941" stroke="#222" stroke-width="0.85"/>
<line x1="483.0" y1="477.17049999999995" x2="483.0" y2="462.9815" stroke="#222" stroke-width="0.85"/>
<line x1="481.2" y1="477.17049999999995" x2="484.8" y2="477.17049999999995" stroke="#222" stroke-width="0.85"/>
<line x1="481.2" y1="462.9815" x2="484.8" y2="462.9815" stroke="#222" stroke-width="0.85"/>
<line x1="511.4" y1="479.1975" x2="511.4" y2="457.914" stroke="#222" stroke-width="0.85"/>
<line x1="509.59999999999997" y1="479.1975" x2="513.1999999999999" y2="479.1975" stroke="#222" stroke-width="0.85"/>
<line x1="509.59999999999997" y1="457.914" x2="513.1999999999999" y2="457.914" stroke="#222" stroke-width="0.85"/>
<line x1="369.4" y1="496.42699999999996" x2="369.4" y2="488.31899999999996" stroke="#222" stroke-width="0.85"/>
<line x1="367.59999999999997" y1="496.42699999999996" x2="371.2" y2="496.42699999999996" stroke="#222" stroke-width="0.85"/>
<line x1="367.59999999999997" y1="488.31899999999996" x2="371.2" y2="488.31899999999996" stroke="#222" stroke-width="0.85"/>
<line x1="383.6" y1="489.3325" x2="383.6" y2="462.9815" stroke="#222" stroke-width="0.85"/>
<line x1="381.8" y1="489.3325" x2="385.40000000000003" y2="489.3325" stroke="#222" stroke-width="0.85"/>
<line x1="381.8" y1="462.9815" x2="385.40000000000003" y2="462.9815" stroke="#222" stroke-width="0.85"/>
<line x1="412.0" y1="441.698" x2="412.0" y2="427.50899999999996" stroke="#222" stroke-width="0.85"/>
<line x1="410.2" y1="441.698" x2="413.8" y2="441.698" stroke="#222" stroke-width="0.85"/>
<line x1="410.2" y1="427.50899999999996" x2="413.8" y2="427.50899999999996" stroke="#222" stroke-width="0.85"/>
<line x1="426.2" y1="453.85999999999996" x2="426.2" y2="418.3875" stroke="#222" stroke-width="0.85"/>
<line x1="424.4" y1="453.85999999999996" x2="428.0" y2="453.85999999999996" stroke="#222" stroke-width="0.85"/>
<line x1="424.4" y1="418.3875" x2="428.0" y2="418.3875" stroke="#222" stroke-width="0.85"/>
<line x1="454.6" y1="418.3875" x2="454.6" y2="407.239" stroke="#222" stroke-width="0.85"/>
<line x1="452.8" y1="418.3875" x2="456.40000000000003" y2="418.3875" stroke="#222" stroke-width="0.85"/>
<line x1="452.8" y1="407.239" x2="456.40000000000003" y2="407.239" stroke="#222" stroke-width="0.85"/>
<line x1="483.0" y1="410.2795" x2="483.0" y2="401.15799999999996" stroke="#222" stroke-width="0.85"/>
<line x1="481.2" y1="410.2795" x2="484.8" y2="410.2795" stroke="#222" stroke-width="0.85"/>
<line x1="481.2" y1="401.15799999999996" x2="484.8" y2="401.15799999999996" stroke="#222" stroke-width="0.85"/>
<line x1="355.2" y1="494.4" x2="355.2" y2="487.3055" stroke="#222" stroke-width="0.85"/>
<line x1="353.4" y1="494.4" x2="357.0" y2="494.4" stroke="#222" stroke-width="0.85"/>
<line x1="353.4" y1="487.3055" x2="357.0" y2="487.3055" stroke="#222" stroke-width="0.85"/>
<line x1="369.4" y1="494.4" x2="369.4" y2="481.2245" stroke="#222" stroke-width="0.85"/>
<line x1="367.59999999999997" y1="494.4" x2="371.2" y2="494.4" stroke="#222" stroke-width="0.85"/>
<line x1="367.59999999999997" y1="481.2245" x2="371.2" y2="481.2245" stroke="#222" stroke-width="0.85"/>
<line x1="383.6" y1="494.4" x2="383.6" y2="462.9815" stroke="#222" stroke-width="0.85"/>
<line x1="381.8" y1="494.4" x2="385.40000000000003" y2="494.4" stroke="#222" stroke-width="0.85"/>
<line x1="381.8" y1="462.9815" x2="385.40000000000003" y2="462.9815" stroke="#222" stroke-width="0.85"/>
<line x1="412.0" y1="470.07599999999996" x2="412.0" y2="441.698" stroke="#222" stroke-width="0.85"/>
<line x1="410.2" y1="470.07599999999996" x2="413.8" y2="470.07599999999996" stroke="#222" stroke-width="0.85"/>
<line x1="410.2" y1="441.698" x2="413.8" y2="441.698" stroke="#222" stroke-width="0.85"/>
<line x1="426.2" y1="445.75199999999995" x2="426.2" y2="431.563" stroke="#222" stroke-width="0.85"/>
<line x1="424.4" y1="445.75199999999995" x2="428.0" y2="445.75199999999995" stroke="#222" stroke-width="0.85"/>
<line x1="424.4" y1="431.563" x2="428.0" y2="431.563" stroke="#222" stroke-width="0.85"/>
<line x1="454.6" y1="429.53599999999994" x2="454.6" y2="417.37399999999997" stroke="#222" stroke-width="0.85"/>
<line x1="452.8" y1="429.53599999999994" x2="456.40000000000003" y2="429.53599999999994" stroke="#222" stroke-width="0.85"/>
<line x1="452.8" y1="417.37399999999997" x2="456.40000000000003" y2="417.37399999999997" stroke="#222" stroke-width="0.85"/>
<line x1="483.0" y1="415.347" x2="483.0" y2="403.18499999999995" stroke="#222" stroke-width="0.85"/>
<line x1="481.2" y1="415.347" x2="484.8" y2="415.347" stroke="#222" stroke-width="0.85"/>
<line x1="481.2" y1="403.18499999999995" x2="484.8" y2="403.18499999999995" stroke="#222" stroke-width="0.85"/>
<circle cx="341.00" cy="494.40" r="2.55" fill="#000" stroke="#000" stroke-width="1.0"/>
<circle cx="355.20" cy="466.02" r="2.55" fill="#000" stroke="#000" stroke-width="1.0"/>
<circle cx="369.40" cy="393.05" r="2.55" fill="#000" stroke="#000" stroke-width="1.0"/>
<circle cx="383.60" cy="396.09" r="2.55" fill="#000" stroke="#000" stroke-width="1.0"/>
<circle cx="412.00" cy="442.41" r="2.55" fill="#000" stroke="#000" stroke-width="1.0"/>
<circle cx="426.20" cy="444.74" r="2.55" fill="#000" stroke="#000" stroke-width="1.0"/>
<circle cx="454.60" cy="452.24" r="2.55" fill="#000" stroke="#000" stroke-width="1.0"/>
<circle cx="483.00" cy="457.61" r="2.55" fill="#000" stroke="#000" stroke-width="1.0"/>
<circle cx="511.40" cy="456.50" r="2.55" fill="#000" stroke="#000" stroke-width="1.0"/>
<circle cx="341.00" cy="494.40" r="2.55" fill="#fff" stroke="#000" stroke-width="1.0"/>
<circle cx="355.20" cy="465.52" r="2.55" fill="#fff" stroke="#000" stroke-width="1.0"/>
<circle cx="369.40" cy="412.31" r="2.55" fill="#fff" stroke="#000" stroke-width="1.0"/>
<circle cx="383.60" cy="393.05" r="2.55" fill="#fff" stroke="#000" stroke-width="1.0"/>
<circle cx="412.00" cy="421.43" r="2.55" fill="#fff" stroke="#000" stroke-width="1.0"/>
<circle cx="426.20" cy="440.68" r="2.55" fill="#fff" stroke="#000" stroke-width="1.0"/>
<circle cx="454.60" cy="467.34" r="2.55" fill="#fff" stroke="#000" stroke-width="1.0"/>
<circle cx="483.00" cy="470.08" r="2.55" fill="#fff" stroke="#000" stroke-width="1.0"/>
<circle cx="511.40" cy="464.00" r="2.55" fill="#fff" stroke="#000" stroke-width="1.0"/>
<rect x="338.45" y="491.85" width="5.10" height="5.10" fill="#000" stroke="#000" stroke-width="1.0"/>
<rect x="352.65" y="491.85" width="5.10" height="5.10" fill="#000" stroke="#000" stroke-width="1.0"/>
<rect x="366.85" y="489.82" width="5.10" height="5.10" fill="#000" stroke="#000" stroke-width="1.0"/>
<rect x="381.05" y="472.59" width="5.10" height="5.10" fill="#000" stroke="#000" stroke-width="1.0"/>
<rect x="409.45" y="432.05" width="5.10" height="5.10" fill="#000" stroke="#000" stroke-width="1.0"/>
<rect x="423.65" y="432.56" width="5.10" height="5.10" fill="#000" stroke="#000" stroke-width="1.0"/>
<rect x="452.05" y="410.77" width="5.10" height="5.10" fill="#000" stroke="#000" stroke-width="1.0"/>
<rect x="480.45" y="403.17" width="5.10" height="5.10" fill="#000" stroke="#000" stroke-width="1.0"/>
<rect x="508.85" y="390.50" width="5.10" height="5.10" fill="#000" stroke="#000" stroke-width="1.0"/>
<rect x="338.45" y="491.85" width="5.10" height="5.10" fill="#fff" stroke="#000" stroke-width="1.0"/>
<rect x="352.65" y="489.32" width="5.10" height="5.10" fill="#fff" stroke="#000" stroke-width="1.0"/>
<rect x="366.85" y="486.78" width="5.10" height="5.10" fill="#fff" stroke="#000" stroke-width="1.0"/>
<rect x="381.05" y="481.71" width="5.10" height="5.10" fill="#fff" stroke="#000" stroke-width="1.0"/>
<rect x="409.45" y="453.34" width="5.10" height="5.10" fill="#fff" stroke="#000" stroke-width="1.0"/>
<rect x="423.65" y="436.11" width="5.10" height="5.10" fill="#fff" stroke="#000" stroke-width="1.0"/>
<rect x="452.05" y="420.90" width="5.10" height="5.10" fill="#fff" stroke="#000" stroke-width="1.0"/>
<rect x="480.45" y="406.72" width="5.10" height="5.10" fill="#fff" stroke="#000" stroke-width="1.0"/>
<rect x="508.85" y="390.50" width="5.10" height="5.10" fill="#fff" stroke="#000" stroke-width="1.0"/>
<rect x="412.5" y="362.5" width="88.0" height="28.0" fill="#fff" stroke="#000" stroke-width="1.0"/>
<line x1="421.5" y1="366.2" x2="434.0" y2="366.2" stroke="#000" stroke-width="1.3"/>
<circle cx="427.75" cy="366.20" r="1.80" fill="#000" stroke="#000" stroke-width="1.0"/>
<text x="435.3" y="368.65" font-family="Liberation Sans" font-size="6.65" text-anchor="start" fill="#000" stroke="#000" stroke-width="0.22">Day 8 + Peptide</text>
<line x1="421.5" y1="372.6" x2="434.0" y2="372.6" stroke="#000" stroke-width="1.3"/>
<circle cx="427.75" cy="372.60" r="1.80" fill="#fff" stroke="#000" stroke-width="1.0"/>
<text x="435.3" y="375.05" font-family="Liberation Sans" font-size="6.65" text-anchor="start" fill="#000" stroke="#000" stroke-width="0.22">Immune + Peptide</text>
<line x1="421.5" y1="379.0" x2="434.0" y2="379.0" stroke="#000" stroke-width="1.3"/>
<rect x="425.95" y="377.20" width="3.60" height="3.60" fill="#000" stroke="#000" stroke-width="1.0"/>
<text x="435.3" y="381.45" font-family="Liberation Sans" font-size="6.65" text-anchor="start" fill="#000" stroke="#000" stroke-width="0.22">Day 8 + IL-12,IL-18</text>
<line x1="421.5" y1="385.3" x2="434.0" y2="385.3" stroke="#000" stroke-width="1.3"/>
<rect x="425.95" y="383.50" width="3.60" height="3.60" fill="#fff" stroke="#000" stroke-width="1.0"/>
<text x="435.3" y="387.75" font-family="Liberation Sans" font-size="6.65" text-anchor="start" fill="#000" stroke="#000" stroke-width="0.22">Immune + IL-12,IL-18</text>
</g>
</svg>
</body></html>
